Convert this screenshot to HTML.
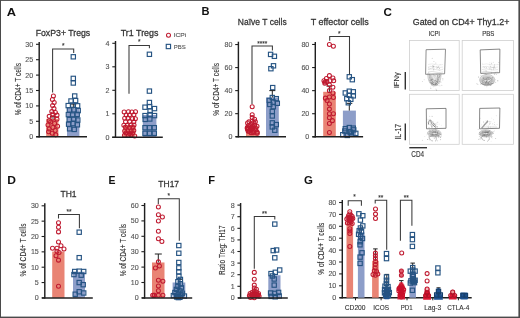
<!DOCTYPE html>
<html><head><meta charset="utf-8"><style>
html,body{margin:0;padding:0;background:#fff;}
body{width:520px;height:318px;overflow:hidden;position:relative;}
svg{position:absolute;left:0;top:0;filter:blur(0.35px);}
svg text{font-family:"Liberation Sans", sans-serif;}
</style></head><body>
<svg width="520" height="318" viewBox="0 0 520 318">
<rect x="0" y="0" width="520" height="318" fill="#fff"/>
<text x="6.65" y="15.6" font-size="11.4" font-weight="bold" fill="#111" stroke="#111" stroke-width="0" textLength="9.3" lengthAdjust="spacingAndGlyphs">A</text>
<text x="201.55" y="15.4" font-size="11.4" font-weight="bold" fill="#111" stroke="#111" stroke-width="0" textLength="8" lengthAdjust="spacingAndGlyphs">B</text>
<text x="383.45" y="15.6" font-size="11.4" font-weight="bold" fill="#111" stroke="#111" stroke-width="0" textLength="8.4" lengthAdjust="spacingAndGlyphs">C</text>
<text x="7.35" y="183.6" font-size="11.4" font-weight="bold" fill="#111" stroke="#111" stroke-width="0" textLength="8.7" lengthAdjust="spacingAndGlyphs">D</text>
<text x="108.45" y="183.8" font-size="11.4" font-weight="bold" fill="#111" stroke="#111" stroke-width="0" textLength="7" lengthAdjust="spacingAndGlyphs">E</text>
<text x="208.35" y="183.8" font-size="11.4" font-weight="bold" fill="#111" stroke="#111" stroke-width="0" textLength="6.8" lengthAdjust="spacingAndGlyphs">F</text>
<text x="303.95" y="183.8" font-size="11.4" font-weight="bold" fill="#111" stroke="#111" stroke-width="0" textLength="8.9" lengthAdjust="spacingAndGlyphs">G</text>
<text x="35.65" y="36.2" font-size="9.0" font-weight="normal" fill="#333333" stroke="#333333" stroke-width="0.26" textLength="54.6" lengthAdjust="spacingAndGlyphs">FoxP3+ Tregs</text>
<text x="20.6" y="115.35" font-size="8.6" fill="#333333" stroke="#333333" stroke-width="0.12" transform="rotate(-90 20.6 115.35)" textLength="52.4" lengthAdjust="spacingAndGlyphs">% of CD4+ T cells</text>
<rect x="14.4" y="66.2" width="5" height="3.7" fill="#b5b5b5" opacity="0.8"/>
<rect x="46.2" y="118.84" width="12.2" height="17.86" fill="#e98474"/>
<rect x="67" y="108.36" width="12.4" height="28.34" fill="#8d9ec9"/>
<line x1="53" y1="118.84" x2="53" y2="116.37" stroke="#202020" stroke-width="1.0"/>
<line x1="50" y1="116.37" x2="56" y2="116.37" stroke="#202020" stroke-width="1.0"/>
<line x1="73.3" y1="108.36" x2="73.3" y2="104.05" stroke="#202020" stroke-width="1.0"/>
<line x1="70.3" y1="104.05" x2="76.3" y2="104.05" stroke="#202020" stroke-width="1.0"/>
<circle cx="53.4" cy="96" r="2.0" stroke="#bf1a30" stroke-width="1.05" fill="none"/>
<circle cx="52.4" cy="99.4" r="2.0" stroke="#bf1a30" stroke-width="1.05" fill="none"/>
<circle cx="54.2" cy="102.4" r="2.0" stroke="#bf1a30" stroke-width="1.05" fill="none"/>
<circle cx="52.6" cy="105.6" r="2.0" stroke="#bf1a30" stroke-width="1.05" fill="none"/>
<circle cx="54" cy="108.6" r="2.0" stroke="#bf1a30" stroke-width="1.05" fill="none"/>
<circle cx="51.8" cy="111.6" r="2.0" stroke="#bf1a30" stroke-width="1.05" fill="none"/>
<circle cx="55.4" cy="112.4" r="2.0" stroke="#bf1a30" stroke-width="1.05" fill="none"/>
<circle cx="52.8" cy="113.91" r="2.0" stroke="#bf1a30" stroke-width="1.05" fill="none"/>
<circle cx="57" cy="115.14" r="2.0" stroke="#bf1a30" stroke-width="1.05" fill="none"/>
<circle cx="49.2" cy="116.37" r="2.0" stroke="#bf1a30" stroke-width="1.05" fill="none"/>
<circle cx="52.8" cy="118.22" r="2.0" stroke="#bf1a30" stroke-width="1.05" fill="none"/>
<circle cx="57" cy="119.14" r="2.0" stroke="#bf1a30" stroke-width="1.05" fill="none"/>
<circle cx="49.2" cy="120.68" r="2.0" stroke="#bf1a30" stroke-width="1.05" fill="none"/>
<circle cx="50.69" cy="121.92" r="2.0" stroke="#bf1a30" stroke-width="1.05" fill="none"/>
<circle cx="54.6" cy="123.46" r="2.0" stroke="#bf1a30" stroke-width="1.05" fill="none"/>
<circle cx="48" cy="125" r="2.0" stroke="#bf1a30" stroke-width="1.05" fill="none"/>
<circle cx="57.6" cy="126.23" r="2.0" stroke="#bf1a30" stroke-width="1.05" fill="none"/>
<circle cx="52.8" cy="127.46" r="2.0" stroke="#bf1a30" stroke-width="1.05" fill="none"/>
<circle cx="49.2" cy="129" r="2.0" stroke="#bf1a30" stroke-width="1.05" fill="none"/>
<circle cx="55.2" cy="130.54" r="2.0" stroke="#bf1a30" stroke-width="1.05" fill="none"/>
<circle cx="48.61" cy="131.77" r="2.0" stroke="#bf1a30" stroke-width="1.05" fill="none"/>
<circle cx="52.2" cy="133.31" r="2.0" stroke="#bf1a30" stroke-width="1.05" fill="none"/>
<circle cx="55.8" cy="134.85" r="2.0" stroke="#bf1a30" stroke-width="1.05" fill="none"/>
<rect x="72.55" y="93.85" width="4.3" height="4.3" stroke="#265483" stroke-width="1.15" fill="none"/>
<rect x="68.85" y="98.85" width="4.3" height="4.3" stroke="#265483" stroke-width="1.15" fill="none"/>
<rect x="73.45" y="98.45" width="4.3" height="4.3" stroke="#265483" stroke-width="1.15" fill="none"/>
<rect x="66.05" y="103.45" width="4.3" height="4.3" stroke="#265483" stroke-width="1.15" fill="none"/>
<rect x="70.65" y="103.05" width="4.3" height="4.3" stroke="#265483" stroke-width="1.15" fill="none"/>
<rect x="75.45" y="103.65" width="4.3" height="4.3" stroke="#265483" stroke-width="1.15" fill="none"/>
<rect x="67.25" y="107.85" width="4.3" height="4.3" stroke="#265483" stroke-width="1.15" fill="none"/>
<rect x="71.85" y="107.65" width="4.3" height="4.3" stroke="#265483" stroke-width="1.15" fill="none"/>
<rect x="76.05" y="108.45" width="4.3" height="4.3" stroke="#265483" stroke-width="1.15" fill="none"/>
<rect x="66.25" y="112.45" width="4.3" height="4.3" stroke="#265483" stroke-width="1.15" fill="none"/>
<rect x="70.45" y="112.85" width="4.3" height="4.3" stroke="#265483" stroke-width="1.15" fill="none"/>
<rect x="75.05" y="112.25" width="4.3" height="4.3" stroke="#265483" stroke-width="1.15" fill="none"/>
<rect x="67.05" y="117.45" width="4.3" height="4.3" stroke="#265483" stroke-width="1.15" fill="none"/>
<rect x="71.65" y="116.85" width="4.3" height="4.3" stroke="#265483" stroke-width="1.15" fill="none"/>
<rect x="75.65" y="117.85" width="4.3" height="4.3" stroke="#265483" stroke-width="1.15" fill="none"/>
<rect x="66.45" y="122.05" width="4.3" height="4.3" stroke="#265483" stroke-width="1.15" fill="none"/>
<rect x="70.85" y="121.45" width="4.3" height="4.3" stroke="#265483" stroke-width="1.15" fill="none"/>
<rect x="75.25" y="122.65" width="4.3" height="4.3" stroke="#265483" stroke-width="1.15" fill="none"/>
<rect x="67.45" y="126.65" width="4.3" height="4.3" stroke="#265483" stroke-width="1.15" fill="none"/>
<rect x="72.05" y="127.25" width="4.3" height="4.3" stroke="#265483" stroke-width="1.15" fill="none"/>
<rect x="71.15" y="76.25" width="4.3" height="4.3" stroke="#265483" stroke-width="1.15" fill="none"/>
<rect x="71.15" y="80.85" width="4.3" height="4.3" stroke="#265483" stroke-width="1.15" fill="none"/>
<rect x="71.15" y="54.65" width="4.3" height="4.3" stroke="#265483" stroke-width="1.15" fill="none"/>
<line x1="39.2" y1="42" x2="39.2" y2="137.4" stroke="#202020" stroke-width="1.45"/>
<line x1="36" y1="136.7" x2="39.2" y2="136.7" stroke="#202020" stroke-width="1.1"/>
<text x="33.2" y="139.26" font-size="7.1" text-anchor="end" font-weight="normal" fill="#555" stroke="#555" stroke-width="0.12">0</text>
<line x1="36" y1="121.3" x2="39.2" y2="121.3" stroke="#202020" stroke-width="1.1"/>
<text x="33.2" y="123.86" font-size="7.1" text-anchor="end" font-weight="normal" fill="#555" stroke="#555" stroke-width="0.12">5</text>
<line x1="36" y1="105.9" x2="39.2" y2="105.9" stroke="#202020" stroke-width="1.1"/>
<text x="33.2" y="108.46" font-size="7.1" text-anchor="end" font-weight="normal" fill="#555" stroke="#555" stroke-width="0.12">10</text>
<line x1="36" y1="90.5" x2="39.2" y2="90.5" stroke="#202020" stroke-width="1.1"/>
<text x="33.2" y="93.06" font-size="7.1" text-anchor="end" font-weight="normal" fill="#555" stroke="#555" stroke-width="0.12">15</text>
<line x1="36" y1="75.1" x2="39.2" y2="75.1" stroke="#202020" stroke-width="1.1"/>
<text x="33.2" y="77.66" font-size="7.1" text-anchor="end" font-weight="normal" fill="#555" stroke="#555" stroke-width="0.12">20</text>
<line x1="36" y1="59.7" x2="39.2" y2="59.7" stroke="#202020" stroke-width="1.1"/>
<text x="33.2" y="62.26" font-size="7.1" text-anchor="end" font-weight="normal" fill="#555" stroke="#555" stroke-width="0.12">25</text>
<line x1="36" y1="44.3" x2="39.2" y2="44.3" stroke="#202020" stroke-width="1.1"/>
<text x="33.2" y="46.86" font-size="7.1" text-anchor="end" font-weight="normal" fill="#555" stroke="#555" stroke-width="0.12">30</text>
<line x1="36.2" y1="136.7" x2="87" y2="136.7" stroke="#202020" stroke-width="1.5"/>
<path d="M52.6 92.5 L52.6 49 L73.7 49 L73.7 53" stroke="#3a3a3a" stroke-width="1.05" fill="none"/>
<text x="63.15" y="48.4" font-size="6.5" text-anchor="middle" font-weight="normal" fill="#333" stroke="#333" stroke-width="0.12">*</text>
<text x="120.75" y="35.7" font-size="9.0" font-weight="normal" fill="#333333" stroke="#333333" stroke-width="0.26" textLength="37.7" lengthAdjust="spacingAndGlyphs">Tr1 Tregs</text>
<rect x="123.2" y="125.08" width="12.2" height="12.22" fill="#e98474"/>
<rect x="142.8" y="114.98" width="13.6" height="22.32" fill="#8d9ec9"/>
<circle cx="124.16" cy="111.99" r="2.0" stroke="#bf1a30" stroke-width="1.05" fill="none"/>
<circle cx="128.43" cy="111.78" r="2.0" stroke="#bf1a30" stroke-width="1.05" fill="none"/>
<circle cx="131.82" cy="112.09" r="2.0" stroke="#bf1a30" stroke-width="1.05" fill="none"/>
<circle cx="135.51" cy="111.81" r="2.0" stroke="#bf1a30" stroke-width="1.05" fill="none"/>
<circle cx="126.21" cy="114.94" r="2.0" stroke="#bf1a30" stroke-width="1.05" fill="none"/>
<circle cx="129.5" cy="115.07" r="2.0" stroke="#bf1a30" stroke-width="1.05" fill="none"/>
<circle cx="133.89" cy="114.77" r="2.0" stroke="#bf1a30" stroke-width="1.05" fill="none"/>
<circle cx="124.69" cy="118.33" r="2.0" stroke="#bf1a30" stroke-width="1.05" fill="none"/>
<circle cx="127.93" cy="118.14" r="2.0" stroke="#bf1a30" stroke-width="1.05" fill="none"/>
<circle cx="132.5" cy="118.84" r="2.0" stroke="#bf1a30" stroke-width="1.05" fill="none"/>
<circle cx="135.38" cy="118.72" r="2.0" stroke="#bf1a30" stroke-width="1.05" fill="none"/>
<circle cx="125.53" cy="121.83" r="2.0" stroke="#bf1a30" stroke-width="1.05" fill="none"/>
<circle cx="129.8" cy="121.62" r="2.0" stroke="#bf1a30" stroke-width="1.05" fill="none"/>
<circle cx="133.85" cy="121.87" r="2.0" stroke="#bf1a30" stroke-width="1.05" fill="none"/>
<circle cx="123.85" cy="125.32" r="2.0" stroke="#bf1a30" stroke-width="1.05" fill="none"/>
<circle cx="127.22" cy="125.43" r="2.0" stroke="#bf1a30" stroke-width="1.05" fill="none"/>
<circle cx="130.95" cy="125.05" r="2.0" stroke="#bf1a30" stroke-width="1.05" fill="none"/>
<circle cx="134.04" cy="124.98" r="2.0" stroke="#bf1a30" stroke-width="1.05" fill="none"/>
<circle cx="125.49" cy="127.34" r="2.0" stroke="#bf1a30" stroke-width="1.05" fill="none"/>
<circle cx="129.57" cy="127.53" r="2.0" stroke="#bf1a30" stroke-width="1.05" fill="none"/>
<circle cx="132.88" cy="127.51" r="2.0" stroke="#bf1a30" stroke-width="1.05" fill="none"/>
<circle cx="124.67" cy="130.99" r="2.0" stroke="#bf1a30" stroke-width="1.05" fill="none"/>
<circle cx="127.85" cy="130.86" r="2.0" stroke="#bf1a30" stroke-width="1.05" fill="none"/>
<circle cx="131.08" cy="130.83" r="2.0" stroke="#bf1a30" stroke-width="1.05" fill="none"/>
<circle cx="133.82" cy="130.58" r="2.0" stroke="#bf1a30" stroke-width="1.05" fill="none"/>
<circle cx="126.13" cy="132.9" r="2.0" stroke="#bf1a30" stroke-width="1.05" fill="none"/>
<circle cx="129.62" cy="133.59" r="2.0" stroke="#bf1a30" stroke-width="1.05" fill="none"/>
<circle cx="132.51" cy="133.07" r="2.0" stroke="#bf1a30" stroke-width="1.05" fill="none"/>
<circle cx="124.45" cy="135.39" r="2.0" stroke="#bf1a30" stroke-width="1.05" fill="none"/>
<circle cx="128.49" cy="135.39" r="2.0" stroke="#bf1a30" stroke-width="1.05" fill="none"/>
<circle cx="131.03" cy="135.09" r="2.0" stroke="#bf1a30" stroke-width="1.05" fill="none"/>
<circle cx="134.72" cy="135.99" r="2.0" stroke="#bf1a30" stroke-width="1.05" fill="none"/>
<rect x="147.25" y="52.15" width="4.3" height="4.3" stroke="#265483" stroke-width="1.15" fill="none"/>
<rect x="147.25" y="88.95" width="4.3" height="4.3" stroke="#265483" stroke-width="1.15" fill="none"/>
<rect x="147.25" y="100.35" width="4.3" height="4.3" stroke="#265483" stroke-width="1.15" fill="none"/>
<rect x="142.85" y="105.05" width="4.3" height="4.3" stroke="#265483" stroke-width="1.15" fill="none"/>
<rect x="147.45" y="104.45" width="4.3" height="4.3" stroke="#265483" stroke-width="1.15" fill="none"/>
<rect x="152.35" y="106.45" width="4.3" height="4.3" stroke="#265483" stroke-width="1.15" fill="none"/>
<rect x="147.95" y="108.85" width="4.3" height="4.3" stroke="#265483" stroke-width="1.15" fill="none"/>
<rect x="142.85" y="113.45" width="4.3" height="4.3" stroke="#265483" stroke-width="1.15" fill="none"/>
<rect x="147.95" y="112.45" width="4.3" height="4.3" stroke="#265483" stroke-width="1.15" fill="none"/>
<rect x="152.35" y="113.45" width="4.3" height="4.3" stroke="#265483" stroke-width="1.15" fill="none"/>
<rect x="143.05" y="117.25" width="4.3" height="4.3" stroke="#265483" stroke-width="1.15" fill="none"/>
<rect x="147.65" y="116.85" width="4.3" height="4.3" stroke="#265483" stroke-width="1.15" fill="none"/>
<rect x="142.85" y="125.55" width="4.3" height="4.3" stroke="#265483" stroke-width="1.15" fill="none"/>
<rect x="147.45" y="125.55" width="4.3" height="4.3" stroke="#265483" stroke-width="1.15" fill="none"/>
<rect x="152.15" y="125.55" width="4.3" height="4.3" stroke="#265483" stroke-width="1.15" fill="none"/>
<rect x="142.85" y="131.15" width="4.3" height="4.3" stroke="#265483" stroke-width="1.15" fill="none"/>
<rect x="147.45" y="131.15" width="4.3" height="4.3" stroke="#265483" stroke-width="1.15" fill="none"/>
<rect x="152.15" y="131.15" width="4.3" height="4.3" stroke="#265483" stroke-width="1.15" fill="none"/>
<line x1="115.5" y1="41" x2="115.5" y2="138" stroke="#202020" stroke-width="1.45"/>
<line x1="112.3" y1="137.3" x2="115.5" y2="137.3" stroke="#202020" stroke-width="1.1"/>
<text x="109.5" y="139.86" font-size="7.1" text-anchor="end" font-weight="normal" fill="#555" stroke="#555" stroke-width="0.12">0</text>
<line x1="112.3" y1="113.8" x2="115.5" y2="113.8" stroke="#202020" stroke-width="1.1"/>
<text x="109.5" y="116.36" font-size="7.1" text-anchor="end" font-weight="normal" fill="#555" stroke="#555" stroke-width="0.12">1</text>
<line x1="112.3" y1="90.3" x2="115.5" y2="90.3" stroke="#202020" stroke-width="1.1"/>
<text x="109.5" y="92.86" font-size="7.1" text-anchor="end" font-weight="normal" fill="#555" stroke="#555" stroke-width="0.12">2</text>
<line x1="112.3" y1="66.8" x2="115.5" y2="66.8" stroke="#202020" stroke-width="1.1"/>
<text x="109.5" y="69.36" font-size="7.1" text-anchor="end" font-weight="normal" fill="#555" stroke="#555" stroke-width="0.12">3</text>
<line x1="112.3" y1="43.3" x2="115.5" y2="43.3" stroke="#202020" stroke-width="1.1"/>
<text x="109.5" y="45.86" font-size="7.1" text-anchor="end" font-weight="normal" fill="#555" stroke="#555" stroke-width="0.12">4</text>
<line x1="112.2" y1="137.3" x2="162.8" y2="137.3" stroke="#202020" stroke-width="1.5"/>
<path d="M129 93.8 L129 45.5 L149.4 45.5 L149.4 48.3" stroke="#3a3a3a" stroke-width="1.05" fill="none"/>
<text x="139.2" y="44" font-size="6.5" text-anchor="middle" font-weight="normal" fill="#333" stroke="#333" stroke-width="0.12">*</text>
<circle cx="168.5" cy="35.2" r="2.0" stroke="#bf1a30" stroke-width="1.05" fill="none"/>
<text x="173.65" y="37.4" font-size="6.2" font-weight="normal" fill="#555" stroke="#555" stroke-width="0.12" textLength="12.7" lengthAdjust="spacingAndGlyphs">ICPi</text>
<rect x="166.25" y="44.35" width="4.3" height="4.3" stroke="#265483" stroke-width="1.15" fill="none"/>
<text x="173.65" y="48.6" font-size="6.2" font-weight="normal" fill="#555" stroke="#555" stroke-width="0.12" textLength="12" lengthAdjust="spacingAndGlyphs">PBS</text>
<text x="237.85" y="25.2" font-size="9.0" font-weight="normal" fill="#333333" stroke="#333333" stroke-width="0.26" textLength="48.8" lengthAdjust="spacingAndGlyphs">Naïve T cells</text>
<text x="219.3" y="115.65" font-size="8.6" fill="#333333" stroke="#333333" stroke-width="0.12" transform="rotate(-90 219.3 115.65)" textLength="52.7" lengthAdjust="spacingAndGlyphs">% of CD4+ T cells</text>
<rect x="213.1" y="66.1" width="4.4" height="3.8" fill="#b5b5b5" opacity="0.8"/>
<rect x="246" y="125.76" width="12.4" height="10.94" fill="#e98474"/>
<rect x="266" y="97.53" width="12.8" height="39.17" fill="#8d9ec9"/>
<rect x="268.45" y="52.25" width="4.3" height="4.3" stroke="#265483" stroke-width="1.15" fill="none"/>
<rect x="272.25" y="54.15" width="4.3" height="4.3" stroke="#265483" stroke-width="1.15" fill="none"/>
<rect x="271.35" y="63.65" width="4.3" height="4.3" stroke="#265483" stroke-width="1.15" fill="none"/>
<rect x="268.75" y="66.55" width="4.3" height="4.3" stroke="#265483" stroke-width="1.15" fill="none"/>
<rect x="270.55" y="85.45" width="4.3" height="4.3" stroke="#265483" stroke-width="1.15" fill="none"/>
<circle cx="252.2" cy="106.75" r="2.0" stroke="#bf1a30" stroke-width="1.05" fill="none"/>
<circle cx="252.2" cy="114.81" r="2.0" stroke="#bf1a30" stroke-width="1.05" fill="none"/>
<circle cx="252.2" cy="117.58" r="2.0" stroke="#bf1a30" stroke-width="1.05" fill="none"/>
<circle cx="254.6" cy="119.19" r="2.0" stroke="#bf1a30" stroke-width="1.05" fill="none"/>
<circle cx="252.2" cy="121.19" r="2.0" stroke="#bf1a30" stroke-width="1.05" fill="none"/>
<circle cx="255.4" cy="121.69" r="2.0" stroke="#bf1a30" stroke-width="1.05" fill="none"/>
<circle cx="249" cy="121.87" r="2.0" stroke="#bf1a30" stroke-width="1.05" fill="none"/>
<circle cx="253.83" cy="122.46" r="2.0" stroke="#bf1a30" stroke-width="1.05" fill="none"/>
<circle cx="247.58" cy="123" r="2.0" stroke="#bf1a30" stroke-width="1.05" fill="none"/>
<circle cx="251.4" cy="123.79" r="2.0" stroke="#bf1a30" stroke-width="1.05" fill="none"/>
<circle cx="254.6" cy="125.04" r="2.0" stroke="#bf1a30" stroke-width="1.05" fill="none"/>
<circle cx="249" cy="125.22" r="2.0" stroke="#bf1a30" stroke-width="1.05" fill="none"/>
<circle cx="257" cy="126.24" r="2.0" stroke="#bf1a30" stroke-width="1.05" fill="none"/>
<circle cx="252.2" cy="126.49" r="2.0" stroke="#bf1a30" stroke-width="1.05" fill="none"/>
<circle cx="252.59" cy="126.5" r="2.0" stroke="#bf1a30" stroke-width="1.05" fill="none"/>
<circle cx="247.4" cy="127.27" r="2.0" stroke="#bf1a30" stroke-width="1.05" fill="none"/>
<circle cx="250.75" cy="127.83" r="2.0" stroke="#bf1a30" stroke-width="1.05" fill="none"/>
<circle cx="247.43" cy="128.09" r="2.0" stroke="#bf1a30" stroke-width="1.05" fill="none"/>
<circle cx="252.28" cy="128.12" r="2.0" stroke="#bf1a30" stroke-width="1.05" fill="none"/>
<circle cx="247.2" cy="128.2" r="2.0" stroke="#bf1a30" stroke-width="1.05" fill="none"/>
<circle cx="255.4" cy="128.37" r="2.0" stroke="#bf1a30" stroke-width="1.05" fill="none"/>
<circle cx="251.48" cy="128.86" r="2.0" stroke="#bf1a30" stroke-width="1.05" fill="none"/>
<circle cx="247.55" cy="129.03" r="2.0" stroke="#bf1a30" stroke-width="1.05" fill="none"/>
<circle cx="247.78" cy="129.4" r="2.0" stroke="#bf1a30" stroke-width="1.05" fill="none"/>
<circle cx="251.38" cy="129.45" r="2.0" stroke="#bf1a30" stroke-width="1.05" fill="none"/>
<circle cx="255.73" cy="130.26" r="2.0" stroke="#bf1a30" stroke-width="1.05" fill="none"/>
<circle cx="248.14" cy="131.15" r="2.0" stroke="#bf1a30" stroke-width="1.05" fill="none"/>
<circle cx="249.21" cy="131.33" r="2.0" stroke="#bf1a30" stroke-width="1.05" fill="none"/>
<circle cx="253.58" cy="131.35" r="2.0" stroke="#bf1a30" stroke-width="1.05" fill="none"/>
<circle cx="257.04" cy="132.03" r="2.0" stroke="#bf1a30" stroke-width="1.05" fill="none"/>
<circle cx="253.03" cy="132.72" r="2.0" stroke="#bf1a30" stroke-width="1.05" fill="none"/>
<circle cx="251.08" cy="132.73" r="2.0" stroke="#bf1a30" stroke-width="1.05" fill="none"/>
<circle cx="257.34" cy="133.14" r="2.0" stroke="#bf1a30" stroke-width="1.05" fill="none"/>
<line x1="272.3" y1="97.53" x2="272.3" y2="90.62" stroke="#202020" stroke-width="1.0"/>
<line x1="269.3" y1="90.62" x2="275.3" y2="90.62" stroke="#202020" stroke-width="1.0"/>
<rect x="270.15" y="95.38" width="4.3" height="4.3" stroke="#265483" stroke-width="1.15" fill="none"/>
<rect x="274.15" y="96.53" width="4.3" height="4.3" stroke="#265483" stroke-width="1.15" fill="none"/>
<rect x="267.15" y="98.26" width="4.3" height="4.3" stroke="#265483" stroke-width="1.15" fill="none"/>
<rect x="271.15" y="99.99" width="4.3" height="4.3" stroke="#265483" stroke-width="1.15" fill="none"/>
<rect x="275.15" y="101.14" width="4.3" height="4.3" stroke="#265483" stroke-width="1.15" fill="none"/>
<rect x="267.65" y="102.29" width="4.3" height="4.3" stroke="#265483" stroke-width="1.15" fill="none"/>
<rect x="271.15" y="104.6" width="4.3" height="4.3" stroke="#265483" stroke-width="1.15" fill="none"/>
<rect x="270.15" y="109.21" width="4.3" height="4.3" stroke="#265483" stroke-width="1.15" fill="none"/>
<rect x="270.15" y="113.81" width="4.3" height="4.3" stroke="#265483" stroke-width="1.15" fill="none"/>
<rect x="270.15" y="120.73" width="4.3" height="4.3" stroke="#265483" stroke-width="1.15" fill="none"/>
<rect x="274.15" y="122.45" width="4.3" height="4.3" stroke="#265483" stroke-width="1.15" fill="none"/>
<rect x="270.15" y="124.76" width="4.3" height="4.3" stroke="#265483" stroke-width="1.15" fill="none"/>
<rect x="272.65" y="128.1" width="4.3" height="4.3" stroke="#265483" stroke-width="1.15" fill="none"/>
<line x1="238.4" y1="41.7" x2="238.4" y2="137.4" stroke="#202020" stroke-width="1.45"/>
<line x1="235.2" y1="136.7" x2="238.4" y2="136.7" stroke="#202020" stroke-width="1.1"/>
<text x="232.4" y="139.26" font-size="7.1" text-anchor="end" font-weight="normal" fill="#555" stroke="#555" stroke-width="0.12">0</text>
<line x1="235.2" y1="113.66" x2="238.4" y2="113.66" stroke="#202020" stroke-width="1.1"/>
<text x="232.4" y="116.22" font-size="7.1" text-anchor="end" font-weight="normal" fill="#555" stroke="#555" stroke-width="0.12">20</text>
<line x1="235.2" y1="90.62" x2="238.4" y2="90.62" stroke="#202020" stroke-width="1.1"/>
<text x="232.4" y="93.18" font-size="7.1" text-anchor="end" font-weight="normal" fill="#555" stroke="#555" stroke-width="0.12">40</text>
<line x1="235.2" y1="67.58" x2="238.4" y2="67.58" stroke="#202020" stroke-width="1.1"/>
<text x="232.4" y="70.14" font-size="7.1" text-anchor="end" font-weight="normal" fill="#555" stroke="#555" stroke-width="0.12">60</text>
<line x1="235.2" y1="44.54" x2="238.4" y2="44.54" stroke="#202020" stroke-width="1.1"/>
<text x="232.4" y="47.1" font-size="7.1" text-anchor="end" font-weight="normal" fill="#555" stroke="#555" stroke-width="0.12">80</text>
<line x1="235.7" y1="136.7" x2="286" y2="136.7" stroke="#202020" stroke-width="1.5"/>
<path d="M252 104 L252 46 L272.4 46 L272.4 50.6" stroke="#3a3a3a" stroke-width="1.05" fill="none"/>
<text x="262.3" y="46.3" font-size="6.5" text-anchor="middle" font-weight="normal" fill="#333" stroke="#333" stroke-width="0.12">****</text>
<text x="310.65" y="25.3" font-size="9.0" font-weight="normal" fill="#333333" stroke="#333333" stroke-width="0.26" textLength="58" lengthAdjust="spacingAndGlyphs">T effector cells</text>
<rect x="323.2" y="91.79" width="12.6" height="45.01" fill="#e98474"/>
<rect x="342.9" y="110.6" width="13" height="26.2" fill="#8d9ec9"/>
<line x1="329.4" y1="91.79" x2="329.4" y2="86.02" stroke="#202020" stroke-width="1.0"/>
<line x1="326.4" y1="86.02" x2="332.4" y2="86.02" stroke="#202020" stroke-width="1.0"/>
<circle cx="329.4" cy="44.48" r="2.0" stroke="#bf1a30" stroke-width="1.05" fill="none"/>
<circle cx="333.4" cy="46.21" r="2.0" stroke="#bf1a30" stroke-width="1.05" fill="none"/>
<circle cx="329.4" cy="75.64" r="2.0" stroke="#bf1a30" stroke-width="1.05" fill="none"/>
<circle cx="332.9" cy="77.95" r="2.0" stroke="#bf1a30" stroke-width="1.05" fill="none"/>
<circle cx="326.4" cy="78.52" r="2.0" stroke="#bf1a30" stroke-width="1.05" fill="none"/>
<circle cx="329.9" cy="80.83" r="2.0" stroke="#bf1a30" stroke-width="1.05" fill="none"/>
<circle cx="323.96" cy="80.83" r="2.0" stroke="#bf1a30" stroke-width="1.05" fill="none"/>
<circle cx="333.7" cy="80.83" r="2.0" stroke="#bf1a30" stroke-width="1.05" fill="none"/>
<circle cx="326.88" cy="81.41" r="2.0" stroke="#bf1a30" stroke-width="1.05" fill="none"/>
<circle cx="325.13" cy="81.99" r="2.0" stroke="#bf1a30" stroke-width="1.05" fill="none"/>
<circle cx="324.81" cy="83.14" r="2.0" stroke="#bf1a30" stroke-width="1.05" fill="none"/>
<circle cx="329.4" cy="84.87" r="2.0" stroke="#bf1a30" stroke-width="1.05" fill="none"/>
<circle cx="332.9" cy="87.18" r="2.0" stroke="#bf1a30" stroke-width="1.05" fill="none"/>
<circle cx="329.4" cy="90.64" r="2.0" stroke="#bf1a30" stroke-width="1.05" fill="none"/>
<circle cx="332.9" cy="92.95" r="2.0" stroke="#bf1a30" stroke-width="1.05" fill="none"/>
<circle cx="329.4" cy="96.99" r="2.0" stroke="#bf1a30" stroke-width="1.05" fill="none"/>
<circle cx="333.4" cy="97.56" r="2.0" stroke="#bf1a30" stroke-width="1.05" fill="none"/>
<circle cx="325.4" cy="98.14" r="2.0" stroke="#bf1a30" stroke-width="1.05" fill="none"/>
<circle cx="327.1" cy="100.45" r="2.0" stroke="#bf1a30" stroke-width="1.05" fill="none"/>
<circle cx="329.4" cy="103.91" r="2.0" stroke="#bf1a30" stroke-width="1.05" fill="none"/>
<circle cx="329.4" cy="109.1" r="2.0" stroke="#bf1a30" stroke-width="1.05" fill="none"/>
<circle cx="329.4" cy="113.72" r="2.0" stroke="#bf1a30" stroke-width="1.05" fill="none"/>
<circle cx="333.4" cy="113.72" r="2.0" stroke="#bf1a30" stroke-width="1.05" fill="none"/>
<circle cx="329.4" cy="117.76" r="2.0" stroke="#bf1a30" stroke-width="1.05" fill="none"/>
<circle cx="332.4" cy="120.64" r="2.0" stroke="#bf1a30" stroke-width="1.05" fill="none"/>
<circle cx="329.4" cy="123.53" r="2.0" stroke="#bf1a30" stroke-width="1.05" fill="none"/>
<circle cx="329.4" cy="132.53" r="2.0" stroke="#bf1a30" stroke-width="1.05" fill="none"/>
<line x1="349.3" y1="110.6" x2="349.3" y2="103.33" stroke="#202020" stroke-width="1.0"/>
<line x1="346.3" y1="103.33" x2="352.3" y2="103.33" stroke="#202020" stroke-width="1.0"/>
<rect x="347.15" y="74.64" width="4.3" height="4.3" stroke="#265483" stroke-width="1.15" fill="none"/>
<rect x="350.15" y="77.53" width="4.3" height="4.3" stroke="#265483" stroke-width="1.15" fill="none"/>
<rect x="347.15" y="89.07" width="4.3" height="4.3" stroke="#265483" stroke-width="1.15" fill="none"/>
<rect x="351.15" y="89.64" width="4.3" height="4.3" stroke="#265483" stroke-width="1.15" fill="none"/>
<rect x="343.15" y="90.8" width="4.3" height="4.3" stroke="#265483" stroke-width="1.15" fill="none"/>
<rect x="347.15" y="93.11" width="4.3" height="4.3" stroke="#265483" stroke-width="1.15" fill="none"/>
<rect x="351.15" y="93.68" width="4.3" height="4.3" stroke="#265483" stroke-width="1.15" fill="none"/>
<rect x="344.65" y="96.57" width="4.3" height="4.3" stroke="#265483" stroke-width="1.15" fill="none"/>
<rect x="348.65" y="97.15" width="4.3" height="4.3" stroke="#265483" stroke-width="1.15" fill="none"/>
<rect x="346.15" y="100.61" width="4.3" height="4.3" stroke="#265483" stroke-width="1.15" fill="none"/>
<rect x="347.15" y="125.42" width="4.3" height="4.3" stroke="#265483" stroke-width="1.15" fill="none"/>
<rect x="351.15" y="126" width="4.3" height="4.3" stroke="#265483" stroke-width="1.15" fill="none"/>
<rect x="343.15" y="126.57" width="4.3" height="4.3" stroke="#265483" stroke-width="1.15" fill="none"/>
<rect x="351.58" y="127.73" width="4.3" height="4.3" stroke="#265483" stroke-width="1.15" fill="none"/>
<rect x="342.68" y="128.88" width="4.3" height="4.3" stroke="#265483" stroke-width="1.15" fill="none"/>
<rect x="347.15" y="129.46" width="4.3" height="4.3" stroke="#265483" stroke-width="1.15" fill="none"/>
<rect x="348.29" y="130.03" width="4.3" height="4.3" stroke="#265483" stroke-width="1.15" fill="none"/>
<rect x="353.65" y="131.19" width="4.3" height="4.3" stroke="#265483" stroke-width="1.15" fill="none"/>
<rect x="349.09" y="131.77" width="4.3" height="4.3" stroke="#265483" stroke-width="1.15" fill="none"/>
<rect x="340.65" y="132.57" width="4.3" height="4.3" stroke="#265483" stroke-width="1.15" fill="none"/>
<rect x="345.15" y="133.27" width="4.3" height="4.3" stroke="#265483" stroke-width="1.15" fill="none"/>
<line x1="315.3" y1="42" x2="315.3" y2="137.5" stroke="#202020" stroke-width="1.45"/>
<line x1="312.1" y1="136.8" x2="315.3" y2="136.8" stroke="#202020" stroke-width="1.1"/>
<text x="309.3" y="139.36" font-size="7.1" text-anchor="end" font-weight="normal" fill="#555" stroke="#555" stroke-width="0.12">0</text>
<line x1="312.1" y1="113.72" x2="315.3" y2="113.72" stroke="#202020" stroke-width="1.1"/>
<text x="309.3" y="116.28" font-size="7.1" text-anchor="end" font-weight="normal" fill="#555" stroke="#555" stroke-width="0.12">20</text>
<line x1="312.1" y1="90.64" x2="315.3" y2="90.64" stroke="#202020" stroke-width="1.1"/>
<text x="309.3" y="93.2" font-size="7.1" text-anchor="end" font-weight="normal" fill="#555" stroke="#555" stroke-width="0.12">40</text>
<line x1="312.1" y1="67.56" x2="315.3" y2="67.56" stroke="#202020" stroke-width="1.1"/>
<text x="309.3" y="70.12" font-size="7.1" text-anchor="end" font-weight="normal" fill="#555" stroke="#555" stroke-width="0.12">60</text>
<line x1="312.1" y1="44.48" x2="315.3" y2="44.48" stroke="#202020" stroke-width="1.1"/>
<text x="309.3" y="47.04" font-size="7.1" text-anchor="end" font-weight="normal" fill="#555" stroke="#555" stroke-width="0.12">80</text>
<line x1="312.5" y1="136.8" x2="363.1" y2="136.8" stroke="#202020" stroke-width="1.5"/>
<path d="M329.7 40.8 L329.7 36.4 L349.5 36.4 L349.5 74.5" stroke="#3a3a3a" stroke-width="1.05" fill="none"/>
<text x="339.3" y="36.4" font-size="6.5" text-anchor="middle" font-weight="normal" fill="#333" stroke="#333" stroke-width="0.12">*</text>
<text x="412.75" y="25.1" font-size="9.0" font-weight="normal" fill="#333333" stroke="#333333" stroke-width="0.26" textLength="96.6" lengthAdjust="spacingAndGlyphs">Gated on CD4+ Thy1.2+</text>
<text x="428.65" y="35.7" font-size="6.6" font-weight="normal" fill="#333333" stroke="#333333" stroke-width="0.12" textLength="11.3" lengthAdjust="spacingAndGlyphs">ICPi</text>
<text x="482.15" y="35.8" font-size="6.6" font-weight="normal" fill="#333333" stroke="#333333" stroke-width="0.12" textLength="12.2" lengthAdjust="spacingAndGlyphs">PBS</text>
<rect x="409.5" y="40.5" width="49.7" height="50" fill="none" stroke="#cfcfcf" stroke-width="0.8"/>
<rect x="462.2" y="40.5" width="51.3" height="50" fill="none" stroke="#cfcfcf" stroke-width="0.8"/>
<rect x="409.5" y="94.3" width="49.7" height="50" fill="none" stroke="#cfcfcf" stroke-width="0.8"/>
<rect x="462.2" y="94.3" width="51.3" height="50" fill="none" stroke="#cfcfcf" stroke-width="0.8"/>
<defs><radialGradient id="gb" cx="50%" cy="50%" r="50%"><stop offset="0" stop-color="#9a9a9a"/><stop offset="0.6" stop-color="#c4c4c4"/><stop offset="1" stop-color="#ececec" stop-opacity="0"/></radialGradient></defs>
<path d="M428 64.5 Q432.5 63.3 435.5 64.5 T443 64.5" stroke="#8a8a8a" stroke-width="0.6" fill="none" opacity="0.25"/>
<path d="M428 67.0 Q432.5 65.8 435.5 67.0 T443 67.0" stroke="#8a8a8a" stroke-width="0.6" fill="none" opacity="0.3"/>
<path d="M428 69.5 Q432.5 68.3 435.5 69.5 T443 69.5" stroke="#8a8a8a" stroke-width="0.6" fill="none" opacity="0.35"/>
<path d="M428 72.0 Q432.5 70.8 435.5 72.0 T443 72.0" stroke="#8a8a8a" stroke-width="0.6" fill="none" opacity="0.4"/>
<path d="M482 64.5 Q487.0 63.3 490.0 64.5 T498 64.5" stroke="#8a8a8a" stroke-width="0.6" fill="none" opacity="0.25"/>
<path d="M482 67.0 Q487.0 65.8 490.0 67.0 T498 67.0" stroke="#8a8a8a" stroke-width="0.6" fill="none" opacity="0.3"/>
<path d="M482 69.5 Q487.0 68.3 490.0 69.5 T498 69.5" stroke="#8a8a8a" stroke-width="0.6" fill="none" opacity="0.35"/>
<path d="M482 72.0 Q487.0 70.8 490.0 72.0 T498 72.0" stroke="#8a8a8a" stroke-width="0.6" fill="none" opacity="0.4"/>
<path d="M427.8 73.5 C427.5 90, 441.5 90, 441 73.5" stroke="#b0b0b0" stroke-width="0.7" fill="#e8e8e8" opacity="0.9"/>
<path d="M429.3 74 C429.2 87.5, 439.6 87.5, 439.4 74" stroke="#a0a0a0" stroke-width="0.7" fill="none" opacity="1.0"/>
<path d="M430.8 75 C430.8 85.5, 438 85.5, 437.9 75" stroke="#959595" stroke-width="0.7" fill="none" opacity="1.0"/>
<path d="M432.4 77.5 C432.4 82.5, 436.3 82.5, 436.2 77.5" stroke="#aaa" stroke-width="0.6" fill="none" opacity="1.0"/>
<path d="M430.2 81.8 Q434.3 87.8 438.4 81.8" stroke="#707070" stroke-width="1.0" fill="none" opacity="0.7"/>
<circle cx="439.91" cy="85.72" r="0.54" fill="#555" opacity="0.24"/><circle cx="429.91" cy="80.61" r="0.51" fill="#555" opacity="0.43"/><circle cx="435.34" cy="80.98" r="0.56" fill="#555" opacity="0.3"/><circle cx="434.52" cy="80.27" r="0.46" fill="#555" opacity="0.4"/><circle cx="435.85" cy="89.1" r="0.58" fill="#555" opacity="0.16"/><circle cx="439.68" cy="81.22" r="0.58" fill="#555" opacity="0.28"/><circle cx="435.42" cy="84.19" r="0.36" fill="#555" opacity="0.23"/><circle cx="429.95" cy="82.1" r="0.41" fill="#555" opacity="0.23"/><circle cx="435.41" cy="84.42" r="0.42" fill="#555" opacity="0.16"/><circle cx="437.3" cy="76.59" r="0.51" fill="#555" opacity="0.22"/><circle cx="442.82" cy="80.17" r="0.38" fill="#555" opacity="0.27"/><circle cx="433.32" cy="74.92" r="0.58" fill="#555" opacity="0.3"/><circle cx="437.52" cy="75.8" r="0.43" fill="#555" opacity="0.36"/><circle cx="440.51" cy="75.81" r="0.48" fill="#555" opacity="0.36"/><circle cx="437.56" cy="81.08" r="0.55" fill="#555" opacity="0.3"/><circle cx="436.96" cy="84.52" r="0.53" fill="#555" opacity="0.39"/><circle cx="431.31" cy="83.24" r="0.48" fill="#555" opacity="0.42"/><circle cx="430.34" cy="80.03" r="0.47" fill="#555" opacity="0.16"/><circle cx="440.81" cy="82.01" r="0.6" fill="#555" opacity="0.36"/><circle cx="432.49" cy="81.86" r="0.48" fill="#555" opacity="0.49"/><circle cx="435.17" cy="76.05" r="0.57" fill="#555" opacity="0.23"/><circle cx="424.17" cy="79.73" r="0.49" fill="#555" opacity="0.31"/><circle cx="433.86" cy="85" r="0.59" fill="#555" opacity="0.15"/><circle cx="439.71" cy="76.62" r="0.55" fill="#555" opacity="0.33"/><circle cx="430.4" cy="79.07" r="0.36" fill="#555" opacity="0.45"/><circle cx="431.96" cy="79.48" r="0.48" fill="#555" opacity="0.32"/><circle cx="432.09" cy="83.1" r="0.48" fill="#555" opacity="0.37"/><circle cx="430.96" cy="77.91" r="0.36" fill="#555" opacity="0.23"/><circle cx="436.96" cy="84.78" r="0.57" fill="#555" opacity="0.43"/><circle cx="436.76" cy="74.16" r="0.41" fill="#555" opacity="0.44"/><circle cx="433.69" cy="79.17" r="0.35" fill="#555" opacity="0.16"/><circle cx="434.61" cy="77.77" r="0.38" fill="#555" opacity="0.37"/><circle cx="433.61" cy="81.63" r="0.39" fill="#555" opacity="0.33"/><circle cx="436.15" cy="83" r="0.53" fill="#555" opacity="0.31"/><circle cx="432.42" cy="84.17" r="0.36" fill="#555" opacity="0.29"/><circle cx="432.12" cy="81.61" r="0.38" fill="#555" opacity="0.46"/><circle cx="431.63" cy="80.34" r="0.5" fill="#555" opacity="0.44"/><circle cx="435.29" cy="80.59" r="0.39" fill="#555" opacity="0.4"/><circle cx="438.01" cy="85.25" r="0.52" fill="#555" opacity="0.34"/><circle cx="436.6" cy="90.14" r="0.55" fill="#555" opacity="0.33"/><circle cx="435.52" cy="85.63" r="0.45" fill="#555" opacity="0.35"/><circle cx="431.93" cy="85.08" r="0.36" fill="#555" opacity="0.25"/><circle cx="442.9" cy="79.03" r="0.43" fill="#555" opacity="0.45"/><circle cx="430.82" cy="88.42" r="0.54" fill="#555" opacity="0.3"/><circle cx="434.49" cy="80.97" r="0.57" fill="#555" opacity="0.16"/><circle cx="432.17" cy="79.56" r="0.57" fill="#555" opacity="0.49"/><circle cx="433.07" cy="76.38" r="0.44" fill="#555" opacity="0.27"/><circle cx="436.23" cy="85.68" r="0.46" fill="#555" opacity="0.22"/><circle cx="439.43" cy="83.75" r="0.42" fill="#555" opacity="0.32"/><circle cx="430.62" cy="86.99" r="0.57" fill="#555" opacity="0.16"/><circle cx="435.64" cy="83.56" r="0.6" fill="#555" opacity="0.42"/><circle cx="432.96" cy="82.61" r="0.52" fill="#555" opacity="0.44"/><circle cx="438.01" cy="79.13" r="0.57" fill="#555" opacity="0.39"/><circle cx="422.34" cy="81.52" r="0.41" fill="#555" opacity="0.4"/><circle cx="436.71" cy="81.61" r="0.58" fill="#555" opacity="0.22"/><circle cx="434.83" cy="75.63" r="0.56" fill="#555" opacity="0.28"/><circle cx="432.63" cy="83.02" r="0.57" fill="#555" opacity="0.36"/><circle cx="442.92" cy="78.37" r="0.38" fill="#555" opacity="0.34"/><circle cx="435.44" cy="81.12" r="0.37" fill="#555" opacity="0.45"/><circle cx="431.36" cy="84.69" r="0.55" fill="#555" opacity="0.28"/><circle cx="431.8" cy="79.4" r="0.37" fill="#555" opacity="0.24"/><circle cx="438.69" cy="77.56" r="0.58" fill="#555" opacity="0.31"/><circle cx="433.24" cy="86.74" r="0.56" fill="#555" opacity="0.15"/><circle cx="433.62" cy="79.11" r="0.38" fill="#555" opacity="0.46"/><circle cx="437.51" cy="81.16" r="0.6" fill="#555" opacity="0.3"/><circle cx="436.4" cy="81.95" r="0.41" fill="#555" opacity="0.41"/><circle cx="441.87" cy="85.27" r="0.44" fill="#555" opacity="0.49"/>
<circle cx="436.97" cy="68.44" r="0.56" fill="#555" opacity="0.26"/><circle cx="432.93" cy="65.75" r="0.5" fill="#555" opacity="0.24"/><circle cx="432.44" cy="67.14" r="0.46" fill="#555" opacity="0.21"/><circle cx="432.26" cy="58.41" r="0.59" fill="#555" opacity="0.23"/><circle cx="431.28" cy="68.81" r="0.36" fill="#555" opacity="0.15"/><circle cx="430.73" cy="68.57" r="0.45" fill="#555" opacity="0.28"/><circle cx="428.67" cy="67.38" r="0.41" fill="#555" opacity="0.15"/><circle cx="433.77" cy="69.45" r="0.48" fill="#555" opacity="0.3"/><circle cx="433.55" cy="66.31" r="0.57" fill="#555" opacity="0.27"/><circle cx="433.93" cy="61.5" r="0.54" fill="#555" opacity="0.27"/><circle cx="437.88" cy="67.58" r="0.54" fill="#555" opacity="0.26"/><circle cx="429.03" cy="68.89" r="0.47" fill="#555" opacity="0.29"/><circle cx="428.71" cy="72.93" r="0.57" fill="#555" opacity="0.22"/><circle cx="434.05" cy="64.58" r="0.41" fill="#555" opacity="0.2"/><circle cx="434.06" cy="66.28" r="0.58" fill="#555" opacity="0.19"/><circle cx="438.65" cy="66.64" r="0.59" fill="#555" opacity="0.26"/><circle cx="428.96" cy="67.9" r="0.51" fill="#555" opacity="0.24"/><circle cx="433.71" cy="69.9" r="0.48" fill="#555" opacity="0.29"/><circle cx="433.59" cy="67.17" r="0.56" fill="#555" opacity="0.26"/><circle cx="437.73" cy="66.93" r="0.54" fill="#555" opacity="0.16"/><circle cx="432.71" cy="66.04" r="0.41" fill="#555" opacity="0.28"/><circle cx="439.77" cy="70.26" r="0.56" fill="#555" opacity="0.19"/><circle cx="437.53" cy="74" r="0.46" fill="#555" opacity="0.26"/><circle cx="439.65" cy="68.57" r="0.39" fill="#555" opacity="0.25"/><circle cx="442.98" cy="68.77" r="0.36" fill="#555" opacity="0.19"/><circle cx="436.13" cy="66.38" r="0.4" fill="#555" opacity="0.25"/><circle cx="433.88" cy="68.59" r="0.6" fill="#555" opacity="0.17"/><circle cx="439.47" cy="68.62" r="0.5" fill="#555" opacity="0.26"/><circle cx="438.44" cy="69.78" r="0.36" fill="#555" opacity="0.22"/><circle cx="435.82" cy="63.1" r="0.58" fill="#555" opacity="0.26"/><circle cx="440.07" cy="64.43" r="0.47" fill="#555" opacity="0.18"/><circle cx="432.68" cy="65.78" r="0.38" fill="#555" opacity="0.22"/><circle cx="436.84" cy="66.89" r="0.5" fill="#555" opacity="0.21"/><circle cx="432.23" cy="67.84" r="0.59" fill="#555" opacity="0.19"/><circle cx="430.9" cy="66.06" r="0.35" fill="#555" opacity="0.23"/>
<ellipse cx="487.2" cy="80" rx="7.6" ry="5.6" fill="#e6e6e6" stroke="#b0b0b0" stroke-width="0.6"/>
<ellipse cx="487" cy="80.6" rx="6.6" ry="4.6" fill="none" stroke="#909090" stroke-width="0.6" opacity="0.5"/>
<ellipse cx="487" cy="80.6" rx="5.6" ry="3.6" fill="none" stroke="#808080" stroke-width="0.6" opacity="0.6"/>
<ellipse cx="487" cy="80.6" rx="4.6" ry="2.6" fill="none" stroke="#707070" stroke-width="0.6" opacity="0.7"/>
<ellipse cx="487" cy="80.6" rx="3.4" ry="1.6" fill="none" stroke="#606060" stroke-width="0.6" opacity="0.7"/>
<path d="M481 83.5 Q487 86.5 493.5 83" stroke="#666" stroke-width="0.9" fill="none" opacity="0.6"/>
<circle cx="487.43" cy="84.5" r="0.44" fill="#555" opacity="0.36"/><circle cx="485.83" cy="79.66" r="0.35" fill="#555" opacity="0.44"/><circle cx="486.81" cy="82.83" r="0.6" fill="#555" opacity="0.31"/><circle cx="489.65" cy="77.38" r="0.51" fill="#555" opacity="0.2"/><circle cx="481" cy="75.67" r="0.48" fill="#555" opacity="0.41"/><circle cx="486.22" cy="79.47" r="0.54" fill="#555" opacity="0.36"/><circle cx="486.64" cy="81.26" r="0.57" fill="#555" opacity="0.32"/><circle cx="485.2" cy="74.05" r="0.53" fill="#555" opacity="0.47"/><circle cx="480.61" cy="84.02" r="0.46" fill="#555" opacity="0.48"/><circle cx="488.48" cy="79.5" r="0.38" fill="#555" opacity="0.23"/><circle cx="491.7" cy="79.76" r="0.51" fill="#555" opacity="0.26"/><circle cx="482.56" cy="80.36" r="0.44" fill="#555" opacity="0.35"/><circle cx="478.59" cy="77" r="0.52" fill="#555" opacity="0.48"/><circle cx="495.56" cy="72.79" r="0.52" fill="#555" opacity="0.21"/><circle cx="494.45" cy="74.15" r="0.58" fill="#555" opacity="0.35"/><circle cx="486.3" cy="78.35" r="0.56" fill="#555" opacity="0.35"/><circle cx="486.64" cy="81.63" r="0.56" fill="#555" opacity="0.5"/><circle cx="493.86" cy="83.53" r="0.45" fill="#555" opacity="0.2"/><circle cx="484.9" cy="85.77" r="0.57" fill="#555" opacity="0.17"/><circle cx="485.97" cy="79.86" r="0.53" fill="#555" opacity="0.27"/><circle cx="496.26" cy="74.38" r="0.48" fill="#555" opacity="0.5"/><circle cx="486.34" cy="81.69" r="0.5" fill="#555" opacity="0.16"/><circle cx="488.5" cy="83.6" r="0.5" fill="#555" opacity="0.2"/><circle cx="495.73" cy="82.2" r="0.43" fill="#555" opacity="0.49"/><circle cx="490.49" cy="78.62" r="0.47" fill="#555" opacity="0.33"/><circle cx="483.26" cy="77.12" r="0.49" fill="#555" opacity="0.37"/><circle cx="491.98" cy="79.11" r="0.46" fill="#555" opacity="0.4"/><circle cx="487.3" cy="83.2" r="0.59" fill="#555" opacity="0.33"/><circle cx="486.35" cy="80.35" r="0.45" fill="#555" opacity="0.35"/><circle cx="493.17" cy="81.06" r="0.51" fill="#555" opacity="0.17"/><circle cx="483.49" cy="77.93" r="0.52" fill="#555" opacity="0.27"/><circle cx="485.03" cy="75.45" r="0.36" fill="#555" opacity="0.17"/><circle cx="481.81" cy="73.15" r="0.41" fill="#555" opacity="0.31"/><circle cx="483.7" cy="78.95" r="0.44" fill="#555" opacity="0.26"/><circle cx="482.88" cy="83.65" r="0.43" fill="#555" opacity="0.28"/><circle cx="487.15" cy="79.76" r="0.49" fill="#555" opacity="0.41"/><circle cx="485.82" cy="82.61" r="0.55" fill="#555" opacity="0.23"/><circle cx="488.84" cy="83.66" r="0.52" fill="#555" opacity="0.19"/><circle cx="485.23" cy="83.09" r="0.56" fill="#555" opacity="0.3"/><circle cx="488.69" cy="78.96" r="0.43" fill="#555" opacity="0.38"/><circle cx="490.7" cy="78.18" r="0.41" fill="#555" opacity="0.19"/><circle cx="484.12" cy="80.11" r="0.55" fill="#555" opacity="0.44"/><circle cx="488.47" cy="82.86" r="0.55" fill="#555" opacity="0.37"/><circle cx="488.43" cy="77.74" r="0.38" fill="#555" opacity="0.25"/><circle cx="487.97" cy="78.05" r="0.44" fill="#555" opacity="0.3"/><circle cx="482.96" cy="82.09" r="0.58" fill="#555" opacity="0.2"/><circle cx="497.78" cy="80.72" r="0.57" fill="#555" opacity="0.5"/><circle cx="476.9" cy="83.64" r="0.58" fill="#555" opacity="0.23"/><circle cx="486.76" cy="74.41" r="0.52" fill="#555" opacity="0.33"/><circle cx="486" cy="83.34" r="0.41" fill="#555" opacity="0.17"/><circle cx="483.86" cy="79.11" r="0.55" fill="#555" opacity="0.17"/><circle cx="492.69" cy="77.7" r="0.58" fill="#555" opacity="0.46"/><circle cx="491.77" cy="78.03" r="0.35" fill="#555" opacity="0.41"/><circle cx="488.79" cy="82.88" r="0.52" fill="#555" opacity="0.33"/><circle cx="477.88" cy="84.4" r="0.5" fill="#555" opacity="0.27"/><circle cx="486.86" cy="86.86" r="0.47" fill="#555" opacity="0.42"/><circle cx="485.22" cy="82.2" r="0.48" fill="#555" opacity="0.44"/><circle cx="490.78" cy="85.49" r="0.58" fill="#555" opacity="0.43"/><circle cx="487.25" cy="80.15" r="0.51" fill="#555" opacity="0.45"/><circle cx="490.41" cy="81.29" r="0.42" fill="#555" opacity="0.33"/><circle cx="482.49" cy="82.18" r="0.54" fill="#555" opacity="0.15"/><circle cx="489.21" cy="81.06" r="0.38" fill="#555" opacity="0.17"/><circle cx="495.72" cy="79.51" r="0.37" fill="#555" opacity="0.33"/><circle cx="485.43" cy="83.05" r="0.44" fill="#555" opacity="0.38"/><circle cx="483.36" cy="78.93" r="0.4" fill="#555" opacity="0.27"/><circle cx="491.08" cy="83.36" r="0.53" fill="#555" opacity="0.28"/><circle cx="489.47" cy="81.47" r="0.44" fill="#555" opacity="0.36"/><circle cx="487.9" cy="77.44" r="0.55" fill="#555" opacity="0.37"/><circle cx="483.05" cy="81.79" r="0.47" fill="#555" opacity="0.4"/><circle cx="480.92" cy="82.86" r="0.47" fill="#555" opacity="0.24"/>
<circle cx="489.2" cy="68.39" r="0.45" fill="#555" opacity="0.17"/><circle cx="493.63" cy="68.23" r="0.58" fill="#555" opacity="0.27"/><circle cx="489.34" cy="64.88" r="0.48" fill="#555" opacity="0.19"/><circle cx="490.11" cy="68.26" r="0.4" fill="#555" opacity="0.29"/><circle cx="493.31" cy="62.22" r="0.55" fill="#555" opacity="0.18"/><circle cx="486.42" cy="70.92" r="0.53" fill="#555" opacity="0.28"/><circle cx="490.55" cy="66.13" r="0.5" fill="#555" opacity="0.25"/><circle cx="485.87" cy="66.93" r="0.47" fill="#555" opacity="0.16"/><circle cx="498.18" cy="64.6" r="0.49" fill="#555" opacity="0.2"/><circle cx="494.48" cy="64.88" r="0.57" fill="#555" opacity="0.28"/><circle cx="483.84" cy="66.84" r="0.5" fill="#555" opacity="0.21"/><circle cx="491.26" cy="69.17" r="0.55" fill="#555" opacity="0.16"/><circle cx="495.72" cy="68.21" r="0.42" fill="#555" opacity="0.23"/><circle cx="484.49" cy="67.49" r="0.6" fill="#555" opacity="0.18"/><circle cx="486.13" cy="68.05" r="0.51" fill="#555" opacity="0.19"/><circle cx="483.89" cy="70.91" r="0.43" fill="#555" opacity="0.23"/><circle cx="490.9" cy="66.22" r="0.37" fill="#555" opacity="0.18"/><circle cx="489.66" cy="62.87" r="0.41" fill="#555" opacity="0.2"/><circle cx="491.44" cy="69.99" r="0.36" fill="#555" opacity="0.25"/><circle cx="498.87" cy="62.46" r="0.53" fill="#555" opacity="0.29"/><circle cx="493.1" cy="67.28" r="0.59" fill="#555" opacity="0.27"/><circle cx="482.29" cy="63.2" r="0.42" fill="#555" opacity="0.18"/><circle cx="486.46" cy="67.56" r="0.45" fill="#555" opacity="0.29"/><circle cx="488.66" cy="67.36" r="0.36" fill="#555" opacity="0.18"/><circle cx="490" cy="64.22" r="0.42" fill="#555" opacity="0.16"/><circle cx="494.22" cy="66.64" r="0.4" fill="#555" opacity="0.16"/><circle cx="491.86" cy="67.62" r="0.52" fill="#555" opacity="0.17"/><circle cx="494.62" cy="67.89" r="0.41" fill="#555" opacity="0.3"/><circle cx="493.41" cy="69.56" r="0.54" fill="#555" opacity="0.21"/><circle cx="494.68" cy="66.74" r="0.41" fill="#555" opacity="0.21"/><circle cx="494.09" cy="67.72" r="0.41" fill="#555" opacity="0.28"/><circle cx="491.86" cy="63.92" r="0.36" fill="#555" opacity="0.19"/><circle cx="489.16" cy="69.05" r="0.41" fill="#555" opacity="0.28"/><circle cx="490.02" cy="67.76" r="0.58" fill="#555" opacity="0.23"/><circle cx="494.07" cy="66.82" r="0.58" fill="#555" opacity="0.25"/><circle cx="491.1" cy="62.2" r="0.47" fill="#555" opacity="0.16"/><circle cx="491.47" cy="72.92" r="0.57" fill="#555" opacity="0.29"/><circle cx="485.21" cy="70.75" r="0.55" fill="#555" opacity="0.25"/><circle cx="491.43" cy="63.62" r="0.51" fill="#555" opacity="0.25"/>
<path d="M428.4 124.5 C428.4 121.5, 429.4 119.8, 430.6 120.4 C431.2 123.2, 432.6 126, 436 127.4" stroke="#808080" stroke-width="0.9" fill="none" opacity="1.0"/>
<path d="M430.4 119.6 L437 127.6" stroke="#aaa" stroke-width="0.8" fill="none" opacity="1.0"/>
<circle cx="428.87" cy="120.06" r="0.55" fill="#555" opacity="0.34"/><circle cx="432.5" cy="116.73" r="0.36" fill="#555" opacity="0.24"/><circle cx="437.75" cy="121.99" r="0.58" fill="#555" opacity="0.17"/><circle cx="430.42" cy="123.94" r="0.49" fill="#555" opacity="0.26"/><circle cx="435.44" cy="123.67" r="0.42" fill="#555" opacity="0.33"/><circle cx="433.2" cy="121.74" r="0.55" fill="#555" opacity="0.18"/><circle cx="431.65" cy="122.45" r="0.35" fill="#555" opacity="0.32"/><circle cx="433.61" cy="125.52" r="0.6" fill="#555" opacity="0.32"/><circle cx="427.89" cy="122.4" r="0.4" fill="#555" opacity="0.34"/><circle cx="429.68" cy="116.22" r="0.57" fill="#555" opacity="0.21"/><circle cx="431.64" cy="124.88" r="0.39" fill="#555" opacity="0.16"/><circle cx="431.49" cy="127.37" r="0.35" fill="#555" opacity="0.29"/><circle cx="431.42" cy="125.7" r="0.55" fill="#555" opacity="0.25"/><circle cx="431.39" cy="126.65" r="0.53" fill="#555" opacity="0.16"/><circle cx="433.74" cy="123.4" r="0.54" fill="#555" opacity="0.32"/><circle cx="439.12" cy="124.1" r="0.44" fill="#555" opacity="0.27"/><circle cx="434.08" cy="123.55" r="0.4" fill="#555" opacity="0.34"/><circle cx="434.94" cy="128.26" r="0.58" fill="#555" opacity="0.34"/><circle cx="431.17" cy="125.83" r="0.48" fill="#555" opacity="0.31"/><circle cx="437.53" cy="126.63" r="0.55" fill="#555" opacity="0.32"/><circle cx="441.23" cy="125.15" r="0.37" fill="#555" opacity="0.22"/><circle cx="426.99" cy="119.2" r="0.43" fill="#555" opacity="0.33"/><circle cx="430.09" cy="122.77" r="0.43" fill="#555" opacity="0.19"/><circle cx="434.75" cy="124.3" r="0.52" fill="#555" opacity="0.35"/><circle cx="433.58" cy="124.3" r="0.6" fill="#555" opacity="0.26"/><circle cx="430.86" cy="124.73" r="0.5" fill="#555" opacity="0.32"/><circle cx="429.48" cy="124.36" r="0.36" fill="#555" opacity="0.33"/><circle cx="437" cy="124.21" r="0.56" fill="#555" opacity="0.18"/><circle cx="432.02" cy="116.21" r="0.51" fill="#555" opacity="0.31"/><circle cx="435.93" cy="125.49" r="0.39" fill="#555" opacity="0.32"/><circle cx="431.93" cy="126.67" r="0.6" fill="#555" opacity="0.32"/><circle cx="436.8" cy="123" r="0.47" fill="#555" opacity="0.3"/><circle cx="430.12" cy="123.83" r="0.45" fill="#555" opacity="0.18"/><circle cx="437.76" cy="122.45" r="0.47" fill="#555" opacity="0.22"/><circle cx="435.36" cy="124.77" r="0.55" fill="#555" opacity="0.32"/><circle cx="429.04" cy="127.53" r="0.54" fill="#555" opacity="0.29"/><circle cx="429.96" cy="119.16" r="0.44" fill="#555" opacity="0.29"/><circle cx="432.22" cy="126.89" r="0.54" fill="#555" opacity="0.29"/>
<ellipse cx="434.2" cy="133.2" rx="6.8" ry="3.6" fill="#e6e6e6" stroke="#b0b0b0" stroke-width="0.6"/>
<ellipse cx="434.2" cy="133.6" rx="5.6" ry="2.7" fill="none" stroke="#909090" stroke-width="0.6" opacity="0.8"/>
<ellipse cx="434.2" cy="133.6" rx="4.4" ry="1.9" fill="none" stroke="#777" stroke-width="0.6" opacity="0.8"/>
<ellipse cx="434.2" cy="133.6" rx="3.2" ry="1.1" fill="none" stroke="#5a5a5a" stroke-width="0.6" opacity="0.8"/>
<path d="M429 136 C429 139, 431 141, 433 141 M436 137 C437 139, 436 141, 435 141.5" stroke="#aaa" stroke-width="0.7" fill="none" opacity="1.0"/>
<circle cx="436.1" cy="129.49" r="0.47" fill="#555" opacity="0.24"/><circle cx="440.19" cy="134.51" r="0.47" fill="#555" opacity="0.42"/><circle cx="428.97" cy="137.93" r="0.42" fill="#555" opacity="0.43"/><circle cx="433.45" cy="131.63" r="0.48" fill="#555" opacity="0.39"/><circle cx="435.87" cy="137.83" r="0.55" fill="#555" opacity="0.24"/><circle cx="436.1" cy="130.48" r="0.56" fill="#555" opacity="0.27"/><circle cx="440.28" cy="137.28" r="0.55" fill="#555" opacity="0.31"/><circle cx="436.31" cy="135.53" r="0.51" fill="#555" opacity="0.25"/><circle cx="439.34" cy="133.38" r="0.4" fill="#555" opacity="0.38"/><circle cx="427.76" cy="139.5" r="0.58" fill="#555" opacity="0.33"/><circle cx="430" cy="131.08" r="0.55" fill="#555" opacity="0.49"/><circle cx="437.91" cy="134.97" r="0.5" fill="#555" opacity="0.26"/><circle cx="432.46" cy="133.86" r="0.57" fill="#555" opacity="0.33"/><circle cx="438.6" cy="137.27" r="0.43" fill="#555" opacity="0.22"/><circle cx="431.72" cy="134.66" r="0.4" fill="#555" opacity="0.45"/><circle cx="433.79" cy="134.08" r="0.54" fill="#555" opacity="0.16"/><circle cx="429.47" cy="139.76" r="0.51" fill="#555" opacity="0.26"/><circle cx="431.01" cy="136.44" r="0.38" fill="#555" opacity="0.5"/><circle cx="438.15" cy="135.47" r="0.54" fill="#555" opacity="0.29"/><circle cx="437.13" cy="134.25" r="0.59" fill="#555" opacity="0.46"/><circle cx="429.76" cy="129.35" r="0.46" fill="#555" opacity="0.44"/><circle cx="435.45" cy="131.26" r="0.47" fill="#555" opacity="0.4"/><circle cx="432.5" cy="135.14" r="0.54" fill="#555" opacity="0.24"/><circle cx="426.67" cy="134.88" r="0.39" fill="#555" opacity="0.16"/><circle cx="438" cy="137.12" r="0.44" fill="#555" opacity="0.24"/><circle cx="424.82" cy="136.42" r="0.41" fill="#555" opacity="0.29"/><circle cx="438.2" cy="131.85" r="0.42" fill="#555" opacity="0.32"/><circle cx="431.7" cy="134.71" r="0.44" fill="#555" opacity="0.26"/><circle cx="435.25" cy="132.17" r="0.51" fill="#555" opacity="0.49"/><circle cx="437.61" cy="133.24" r="0.5" fill="#555" opacity="0.26"/><circle cx="430.1" cy="136.43" r="0.55" fill="#555" opacity="0.48"/><circle cx="433.88" cy="134.8" r="0.46" fill="#555" opacity="0.17"/><circle cx="441.11" cy="135.41" r="0.38" fill="#555" opacity="0.4"/><circle cx="427.58" cy="139.54" r="0.56" fill="#555" opacity="0.17"/><circle cx="437.6" cy="140.86" r="0.5" fill="#555" opacity="0.3"/><circle cx="435.55" cy="129.47" r="0.47" fill="#555" opacity="0.31"/><circle cx="437.22" cy="136.06" r="0.39" fill="#555" opacity="0.37"/><circle cx="432.16" cy="133.53" r="0.51" fill="#555" opacity="0.18"/><circle cx="438.77" cy="136.98" r="0.47" fill="#555" opacity="0.46"/><circle cx="429.51" cy="131.34" r="0.38" fill="#555" opacity="0.44"/><circle cx="439.04" cy="136.45" r="0.58" fill="#555" opacity="0.47"/><circle cx="437.61" cy="132.59" r="0.52" fill="#555" opacity="0.43"/><circle cx="440.56" cy="139.59" r="0.58" fill="#555" opacity="0.3"/><circle cx="434.81" cy="131.5" r="0.42" fill="#555" opacity="0.4"/><circle cx="440.94" cy="136.46" r="0.59" fill="#555" opacity="0.25"/><circle cx="435.63" cy="134.07" r="0.56" fill="#555" opacity="0.25"/><circle cx="438.36" cy="133.87" r="0.58" fill="#555" opacity="0.16"/><circle cx="440.64" cy="137.14" r="0.51" fill="#555" opacity="0.34"/><circle cx="436.54" cy="134.85" r="0.44" fill="#555" opacity="0.17"/><circle cx="441.14" cy="134.29" r="0.59" fill="#555" opacity="0.4"/><circle cx="433.06" cy="135.44" r="0.53" fill="#555" opacity="0.19"/><circle cx="429.51" cy="133.59" r="0.47" fill="#555" opacity="0.18"/><circle cx="438.55" cy="136.02" r="0.36" fill="#555" opacity="0.33"/><circle cx="436" cy="136.35" r="0.39" fill="#555" opacity="0.35"/><circle cx="431.72" cy="135.78" r="0.41" fill="#555" opacity="0.35"/><circle cx="437.7" cy="132.95" r="0.39" fill="#555" opacity="0.26"/><circle cx="434.33" cy="138.14" r="0.55" fill="#555" opacity="0.35"/><circle cx="435.41" cy="136.8" r="0.45" fill="#555" opacity="0.3"/><circle cx="422.36" cy="140.32" r="0.49" fill="#555" opacity="0.38"/><circle cx="432.73" cy="130.56" r="0.55" fill="#555" opacity="0.28"/>
<path d="M481.6 128.2 L488 120.8" stroke="#8a8a8a" stroke-width="1.3" fill="none" opacity="0.8"/>
<path d="M483 127 L497 127" stroke="#aaa" stroke-width="0.6" fill="none" opacity="0.6"/>
<circle cx="486.85" cy="125.03" r="0.51" fill="#555" opacity="0.16"/><circle cx="483.81" cy="122.86" r="0.36" fill="#555" opacity="0.23"/><circle cx="492.67" cy="124.25" r="0.37" fill="#555" opacity="0.16"/><circle cx="480.5" cy="126.07" r="0.38" fill="#555" opacity="0.18"/><circle cx="480.39" cy="118.27" r="0.49" fill="#555" opacity="0.21"/><circle cx="489.37" cy="123.36" r="0.56" fill="#555" opacity="0.19"/><circle cx="489.39" cy="124.68" r="0.43" fill="#555" opacity="0.27"/><circle cx="490.5" cy="127.09" r="0.51" fill="#555" opacity="0.21"/><circle cx="486.45" cy="123.18" r="0.36" fill="#555" opacity="0.18"/><circle cx="485.99" cy="120.63" r="0.43" fill="#555" opacity="0.24"/><circle cx="484.36" cy="124.23" r="0.55" fill="#555" opacity="0.25"/><circle cx="488.22" cy="127.42" r="0.48" fill="#555" opacity="0.28"/><circle cx="487.52" cy="121.05" r="0.6" fill="#555" opacity="0.17"/><circle cx="481.41" cy="125.98" r="0.39" fill="#555" opacity="0.22"/><circle cx="494.48" cy="124.59" r="0.54" fill="#555" opacity="0.24"/><circle cx="490.77" cy="121.66" r="0.52" fill="#555" opacity="0.24"/><circle cx="483.65" cy="121.91" r="0.56" fill="#555" opacity="0.29"/><circle cx="481.44" cy="124.22" r="0.37" fill="#555" opacity="0.26"/><circle cx="489.61" cy="121.29" r="0.45" fill="#555" opacity="0.25"/><circle cx="492.96" cy="123.97" r="0.39" fill="#555" opacity="0.17"/><circle cx="495.17" cy="125.36" r="0.38" fill="#555" opacity="0.19"/><circle cx="480.94" cy="127.35" r="0.37" fill="#555" opacity="0.22"/><circle cx="491.79" cy="118.07" r="0.42" fill="#555" opacity="0.21"/><circle cx="490.48" cy="123.05" r="0.39" fill="#555" opacity="0.18"/><circle cx="488.54" cy="126.94" r="0.5" fill="#555" opacity="0.19"/><circle cx="492.69" cy="123.58" r="0.44" fill="#555" opacity="0.23"/><circle cx="494.59" cy="122.17" r="0.48" fill="#555" opacity="0.24"/><circle cx="487.33" cy="122.61" r="0.57" fill="#555" opacity="0.27"/><circle cx="493.67" cy="119.7" r="0.45" fill="#555" opacity="0.21"/><circle cx="493.08" cy="126.08" r="0.37" fill="#555" opacity="0.16"/><circle cx="488.69" cy="125.23" r="0.44" fill="#555" opacity="0.16"/><circle cx="490.58" cy="123.5" r="0.38" fill="#555" opacity="0.2"/><circle cx="497.05" cy="124.47" r="0.5" fill="#555" opacity="0.17"/><circle cx="487.94" cy="126.27" r="0.44" fill="#555" opacity="0.17"/><circle cx="496.27" cy="115.81" r="0.47" fill="#555" opacity="0.22"/><circle cx="489.79" cy="124.22" r="0.44" fill="#555" opacity="0.19"/><circle cx="489.27" cy="121.93" r="0.36" fill="#555" opacity="0.29"/>
<ellipse cx="485.8" cy="133.4" rx="6.6" ry="3.6" fill="#e6e6e6" stroke="#b0b0b0" stroke-width="0.6"/>
<ellipse cx="485.8" cy="133.6" rx="5.4" ry="2.7" fill="none" stroke="#858585" stroke-width="0.6" opacity="0.85"/>
<ellipse cx="485.8" cy="133.6" rx="4.2" ry="1.9" fill="none" stroke="#666" stroke-width="0.6" opacity="0.85"/>
<ellipse cx="485.8" cy="133.6" rx="3.0" ry="1.1" fill="none" stroke="#505050" stroke-width="0.6" opacity="0.85"/>
<path d="M481 136.5 C481 139, 483 140.5, 485 140.5 M489 137 C490 139, 489 140.5, 487.5 141" stroke="#aaa" stroke-width="0.7" fill="none" opacity="1.0"/>
<circle cx="487.64" cy="141.59" r="0.38" fill="#555" opacity="0.4"/><circle cx="488.85" cy="135.58" r="0.6" fill="#555" opacity="0.22"/><circle cx="482.93" cy="132.09" r="0.46" fill="#555" opacity="0.32"/><circle cx="488.94" cy="139.43" r="0.37" fill="#555" opacity="0.23"/><circle cx="489.44" cy="134.78" r="0.45" fill="#555" opacity="0.47"/><circle cx="484.43" cy="135.45" r="0.41" fill="#555" opacity="0.5"/><circle cx="491.65" cy="136" r="0.44" fill="#555" opacity="0.38"/><circle cx="482.44" cy="138.15" r="0.47" fill="#555" opacity="0.38"/><circle cx="490.73" cy="132.35" r="0.39" fill="#555" opacity="0.17"/><circle cx="490.81" cy="133.42" r="0.4" fill="#555" opacity="0.48"/><circle cx="479.75" cy="132.35" r="0.57" fill="#555" opacity="0.25"/><circle cx="480.39" cy="139" r="0.38" fill="#555" opacity="0.42"/><circle cx="491.51" cy="136.97" r="0.53" fill="#555" opacity="0.48"/><circle cx="488.89" cy="131.74" r="0.4" fill="#555" opacity="0.2"/><circle cx="480.83" cy="133.9" r="0.37" fill="#555" opacity="0.47"/><circle cx="479.17" cy="134.3" r="0.4" fill="#555" opacity="0.24"/><circle cx="490.02" cy="134.69" r="0.42" fill="#555" opacity="0.3"/><circle cx="480.03" cy="138.21" r="0.57" fill="#555" opacity="0.21"/><circle cx="483.89" cy="135.52" r="0.52" fill="#555" opacity="0.49"/><circle cx="488.24" cy="139.06" r="0.43" fill="#555" opacity="0.15"/><circle cx="486.36" cy="131.95" r="0.39" fill="#555" opacity="0.3"/><circle cx="486.52" cy="137.36" r="0.46" fill="#555" opacity="0.3"/><circle cx="482.92" cy="133.28" r="0.37" fill="#555" opacity="0.18"/><circle cx="490.19" cy="136.61" r="0.44" fill="#555" opacity="0.43"/><circle cx="479.1" cy="134.36" r="0.6" fill="#555" opacity="0.17"/><circle cx="488.41" cy="134.66" r="0.45" fill="#555" opacity="0.35"/><circle cx="485.84" cy="131.9" r="0.59" fill="#555" opacity="0.15"/><circle cx="487.55" cy="132.85" r="0.57" fill="#555" opacity="0.16"/><circle cx="493.25" cy="133.47" r="0.6" fill="#555" opacity="0.35"/><circle cx="491.1" cy="141.16" r="0.46" fill="#555" opacity="0.18"/><circle cx="481.93" cy="132.48" r="0.47" fill="#555" opacity="0.2"/><circle cx="490.18" cy="137.06" r="0.46" fill="#555" opacity="0.19"/><circle cx="479.43" cy="136.17" r="0.53" fill="#555" opacity="0.31"/><circle cx="482.73" cy="136.14" r="0.41" fill="#555" opacity="0.22"/><circle cx="484.01" cy="134.94" r="0.53" fill="#555" opacity="0.4"/><circle cx="485.28" cy="134.11" r="0.44" fill="#555" opacity="0.3"/><circle cx="495.61" cy="138.56" r="0.54" fill="#555" opacity="0.33"/><circle cx="485.18" cy="132.7" r="0.41" fill="#555" opacity="0.33"/><circle cx="485.76" cy="130.46" r="0.35" fill="#555" opacity="0.36"/><circle cx="492.1" cy="132" r="0.58" fill="#555" opacity="0.49"/><circle cx="486.61" cy="136.82" r="0.49" fill="#555" opacity="0.49"/><circle cx="478.86" cy="139.38" r="0.56" fill="#555" opacity="0.33"/><circle cx="478.2" cy="129.53" r="0.55" fill="#555" opacity="0.25"/><circle cx="487.64" cy="132.98" r="0.44" fill="#555" opacity="0.49"/><circle cx="488.18" cy="132.51" r="0.42" fill="#555" opacity="0.36"/><circle cx="489.67" cy="130.95" r="0.58" fill="#555" opacity="0.4"/><circle cx="488.58" cy="131.06" r="0.44" fill="#555" opacity="0.3"/><circle cx="480.61" cy="134.72" r="0.56" fill="#555" opacity="0.24"/><circle cx="492.5" cy="136.4" r="0.42" fill="#555" opacity="0.3"/><circle cx="492.14" cy="138.03" r="0.42" fill="#555" opacity="0.25"/><circle cx="487.74" cy="131.37" r="0.42" fill="#555" opacity="0.46"/><circle cx="482.46" cy="135.9" r="0.59" fill="#555" opacity="0.43"/><circle cx="485.95" cy="132.38" r="0.55" fill="#555" opacity="0.36"/><circle cx="488.02" cy="132.15" r="0.55" fill="#555" opacity="0.43"/><circle cx="481.11" cy="137.14" r="0.55" fill="#555" opacity="0.5"/><circle cx="492.78" cy="132.14" r="0.38" fill="#555" opacity="0.36"/><circle cx="485.25" cy="133.4" r="0.47" fill="#555" opacity="0.45"/><circle cx="494.3" cy="130.93" r="0.37" fill="#555" opacity="0.36"/><circle cx="490.23" cy="131.45" r="0.43" fill="#555" opacity="0.16"/><circle cx="493.63" cy="131.82" r="0.51" fill="#555" opacity="0.28"/>
<path d="M426.1 49.7 L445.5 49.2 L444.6 73.8 L425.6 74.3 Z" stroke="#6a6a6a" stroke-width="0.75" fill="none"/>
<path d="M480.2 49.9 L499.9 49.1 L499.6 72.7 L480.7 73.4 Z" stroke="#606060" stroke-width="0.75" fill="none"/>
<path d="M426.3 108.8 L446 108.4 L446 128.3 L426.5 128.8 Z" stroke="#606060" stroke-width="0.75" fill="none"/>
<path d="M479.7 108.4 L499.9 108 L499.5 128.3 L479.5 128.8 Z" stroke="#606060" stroke-width="0.75" fill="none"/>
<line x1="405.3" y1="72" x2="405.3" y2="89.6" stroke="#333" stroke-width="1.4"/>
<text x="398.9" y="88.25" font-size="7.6" fill="#333333" stroke="#333333" stroke-width="0.12" transform="rotate(-90 398.9 88.25)" textLength="16" lengthAdjust="spacingAndGlyphs">IFNγ</text>
<line x1="405.3" y1="123.4" x2="405.3" y2="140.2" stroke="#333" stroke-width="1.4"/>
<text x="401" y="139.55" font-size="8.2" fill="#333333" stroke="#333333" stroke-width="0.12" transform="rotate(-90 401 139.55)" textLength="15.6" lengthAdjust="spacingAndGlyphs">IL-17</text>
<line x1="409.3" y1="147.7" x2="427" y2="147.7" stroke="#333" stroke-width="1.4"/>
<text x="411.35" y="156.6" font-size="9.2" font-weight="normal" fill="#333333" stroke="#333333" stroke-width="0.12" textLength="12.8" lengthAdjust="spacingAndGlyphs">CD4</text>
<text x="60.45" y="196.9" font-size="9.2" font-weight="normal" fill="#333333" stroke="#333333" stroke-width="0.26" textLength="16.1" lengthAdjust="spacingAndGlyphs">TH1</text>
<text x="26.3" y="276.55" font-size="8.6" fill="#333333" stroke="#333333" stroke-width="0.12" transform="rotate(-90 26.3 276.55)" textLength="53.1" lengthAdjust="spacingAndGlyphs">% of CD4+ T cells</text>
<rect x="20" y="228.5" width="4" height="3.5" fill="#b5b5b5" opacity="0.8"/>
<rect x="52.2" y="251.54" width="12.3" height="46.36" fill="#e98474"/>
<rect x="73" y="271.8" width="12" height="26.09" fill="#8d9ec9"/>
<circle cx="58.5" cy="222.69" r="2.0" stroke="#bf1a30" stroke-width="1.05" fill="none"/>
<circle cx="58.5" cy="227.29" r="2.0" stroke="#bf1a30" stroke-width="1.05" fill="none"/>
<circle cx="58.5" cy="231.89" r="2.0" stroke="#bf1a30" stroke-width="1.05" fill="none"/>
<circle cx="58.5" cy="242.03" r="2.0" stroke="#bf1a30" stroke-width="1.05" fill="none"/>
<circle cx="61" cy="245.71" r="2.0" stroke="#bf1a30" stroke-width="1.05" fill="none"/>
<circle cx="57" cy="248.17" r="2.0" stroke="#bf1a30" stroke-width="1.05" fill="none"/>
<circle cx="52.5" cy="248.17" r="2.0" stroke="#bf1a30" stroke-width="1.05" fill="none"/>
<circle cx="64" cy="249.09" r="2.0" stroke="#bf1a30" stroke-width="1.05" fill="none"/>
<circle cx="56.97" cy="251.24" r="2.0" stroke="#bf1a30" stroke-width="1.05" fill="none"/>
<circle cx="59.07" cy="252.46" r="2.0" stroke="#bf1a30" stroke-width="1.05" fill="none"/>
<circle cx="56" cy="255.84" r="2.0" stroke="#bf1a30" stroke-width="1.05" fill="none"/>
<circle cx="58.5" cy="260.14" r="2.0" stroke="#bf1a30" stroke-width="1.05" fill="none"/>
<circle cx="58.5" cy="286.23" r="2.0" stroke="#bf1a30" stroke-width="1.05" fill="none"/>
<rect x="77.05" y="230.05" width="4.3" height="4.3" stroke="#265483" stroke-width="1.15" fill="none"/>
<rect x="77.05" y="255.53" width="4.3" height="4.3" stroke="#265483" stroke-width="1.15" fill="none"/>
<rect x="77.05" y="269.04" width="4.3" height="4.3" stroke="#265483" stroke-width="1.15" fill="none"/>
<rect x="81.55" y="269.35" width="4.3" height="4.3" stroke="#265483" stroke-width="1.15" fill="none"/>
<rect x="72.55" y="269.35" width="4.3" height="4.3" stroke="#265483" stroke-width="1.15" fill="none"/>
<rect x="71.8" y="272.42" width="4.3" height="4.3" stroke="#265483" stroke-width="1.15" fill="none"/>
<rect x="79.05" y="273.03" width="4.3" height="4.3" stroke="#265483" stroke-width="1.15" fill="none"/>
<rect x="77.05" y="280.4" width="4.3" height="4.3" stroke="#265483" stroke-width="1.15" fill="none"/>
<rect x="81.05" y="282.55" width="4.3" height="4.3" stroke="#265483" stroke-width="1.15" fill="none"/>
<rect x="77.05" y="289.61" width="4.3" height="4.3" stroke="#265483" stroke-width="1.15" fill="none"/>
<rect x="81.55" y="290.84" width="4.3" height="4.3" stroke="#265483" stroke-width="1.15" fill="none"/>
<rect x="73.05" y="292.07" width="4.3" height="4.3" stroke="#265483" stroke-width="1.15" fill="none"/>
<line x1="44.8" y1="203.2" x2="44.8" y2="298.6" stroke="#202020" stroke-width="1.45"/>
<line x1="41.6" y1="297.9" x2="44.8" y2="297.9" stroke="#202020" stroke-width="1.1"/>
<text x="38.8" y="300.46" font-size="7.1" text-anchor="end" font-weight="normal" fill="#555" stroke="#555" stroke-width="0.12">0</text>
<line x1="41.6" y1="282.55" x2="44.8" y2="282.55" stroke="#202020" stroke-width="1.1"/>
<text x="38.8" y="285.11" font-size="7.1" text-anchor="end" font-weight="normal" fill="#555" stroke="#555" stroke-width="0.12">5</text>
<line x1="41.6" y1="267.2" x2="44.8" y2="267.2" stroke="#202020" stroke-width="1.1"/>
<text x="38.8" y="269.76" font-size="7.1" text-anchor="end" font-weight="normal" fill="#555" stroke="#555" stroke-width="0.12">10</text>
<line x1="41.6" y1="251.85" x2="44.8" y2="251.85" stroke="#202020" stroke-width="1.1"/>
<text x="38.8" y="254.41" font-size="7.1" text-anchor="end" font-weight="normal" fill="#555" stroke="#555" stroke-width="0.12">15</text>
<line x1="41.6" y1="236.5" x2="44.8" y2="236.5" stroke="#202020" stroke-width="1.1"/>
<text x="38.8" y="239.06" font-size="7.1" text-anchor="end" font-weight="normal" fill="#555" stroke="#555" stroke-width="0.12">20</text>
<line x1="41.6" y1="221.15" x2="44.8" y2="221.15" stroke="#202020" stroke-width="1.1"/>
<text x="38.8" y="223.71" font-size="7.1" text-anchor="end" font-weight="normal" fill="#555" stroke="#555" stroke-width="0.12">25</text>
<line x1="41.6" y1="205.8" x2="44.8" y2="205.8" stroke="#202020" stroke-width="1.1"/>
<text x="38.8" y="208.36" font-size="7.1" text-anchor="end" font-weight="normal" fill="#555" stroke="#555" stroke-width="0.12">30</text>
<line x1="41.9" y1="297.9" x2="92.8" y2="297.9" stroke="#202020" stroke-width="1.5"/>
<path d="M58.5 218.5 L58.5 214.5 L79.4 214.5 L79.4 228.3" stroke="#3a3a3a" stroke-width="1.05" fill="none"/>
<text x="69" y="214.4" font-size="6.5" text-anchor="middle" font-weight="normal" fill="#333" stroke="#333" stroke-width="0.12">**</text>
<text x="158.35" y="186.5" font-size="9.2" font-weight="normal" fill="#333333" stroke="#333333" stroke-width="0.26" textLength="20.7" lengthAdjust="spacingAndGlyphs">TH17</text>
<text x="126" y="276.35" font-size="8.6" fill="#333333" stroke="#333333" stroke-width="0.12" transform="rotate(-90 126 276.35)" textLength="52.5" lengthAdjust="spacingAndGlyphs">% of CD4+ T cells</text>
<rect x="120" y="229" width="4" height="3.5" fill="#b5b5b5" opacity="0.8"/>
<rect x="152" y="262.48" width="12.5" height="35.42" fill="#e98474"/>
<rect x="172.6" y="282.5" width="12.7" height="15.4" fill="#8d9ec9"/>
<line x1="158.3" y1="262.48" x2="158.3" y2="254.01" stroke="#202020" stroke-width="1.0"/>
<line x1="154.8" y1="254.01" x2="161.8" y2="254.01" stroke="#202020" stroke-width="1.0"/>
<circle cx="158.4" cy="207.04" r="2.0" stroke="#bf1a30" stroke-width="1.05" fill="none"/>
<circle cx="158.4" cy="214.74" r="2.0" stroke="#bf1a30" stroke-width="1.05" fill="none"/>
<circle cx="162.4" cy="217.05" r="2.0" stroke="#bf1a30" stroke-width="1.05" fill="none"/>
<circle cx="158.4" cy="220.9" r="2.0" stroke="#bf1a30" stroke-width="1.05" fill="none"/>
<circle cx="158.4" cy="231.22" r="2.0" stroke="#bf1a30" stroke-width="1.05" fill="none"/>
<circle cx="158.4" cy="238.76" r="2.0" stroke="#bf1a30" stroke-width="1.05" fill="none"/>
<circle cx="161.9" cy="241.54" r="2.0" stroke="#bf1a30" stroke-width="1.05" fill="none"/>
<circle cx="158.4" cy="261.86" r="2.0" stroke="#bf1a30" stroke-width="1.05" fill="none"/>
<circle cx="159.4" cy="266.02" r="2.0" stroke="#bf1a30" stroke-width="1.05" fill="none"/>
<circle cx="155.4" cy="268.02" r="2.0" stroke="#bf1a30" stroke-width="1.05" fill="none"/>
<circle cx="158.4" cy="280.34" r="2.0" stroke="#bf1a30" stroke-width="1.05" fill="none"/>
<circle cx="162.9" cy="281.27" r="2.0" stroke="#bf1a30" stroke-width="1.05" fill="none"/>
<circle cx="158.4" cy="286.04" r="2.0" stroke="#bf1a30" stroke-width="1.05" fill="none"/>
<circle cx="158.4" cy="290.82" r="2.0" stroke="#bf1a30" stroke-width="1.05" fill="none"/>
<circle cx="158.4" cy="295.28" r="2.0" stroke="#bf1a30" stroke-width="1.05" fill="none"/>
<circle cx="162.9" cy="295.28" r="2.0" stroke="#bf1a30" stroke-width="1.05" fill="none"/>
<circle cx="153.9" cy="295.28" r="2.0" stroke="#bf1a30" stroke-width="1.05" fill="none"/>
<circle cx="152.67" cy="295.28" r="2.0" stroke="#bf1a30" stroke-width="1.05" fill="none"/>
<circle cx="154.58" cy="295.28" r="2.0" stroke="#bf1a30" stroke-width="1.05" fill="none"/>
<line x1="178.9" y1="282.5" x2="178.9" y2="279.42" stroke="#202020" stroke-width="1.0"/>
<line x1="175.9" y1="279.42" x2="181.9" y2="279.42" stroke="#202020" stroke-width="1.0"/>
<rect x="176.65" y="243.39" width="4.3" height="4.3" stroke="#265483" stroke-width="1.15" fill="none"/>
<rect x="176.65" y="251.09" width="4.3" height="4.3" stroke="#265483" stroke-width="1.15" fill="none"/>
<rect x="176.65" y="260.33" width="4.3" height="4.3" stroke="#265483" stroke-width="1.15" fill="none"/>
<rect x="176.65" y="265.72" width="4.3" height="4.3" stroke="#265483" stroke-width="1.15" fill="none"/>
<rect x="176.65" y="269.57" width="4.3" height="4.3" stroke="#265483" stroke-width="1.15" fill="none"/>
<rect x="176.75" y="274.19" width="4.3" height="4.3" stroke="#265483" stroke-width="1.15" fill="none"/>
<rect x="178.25" y="277.27" width="4.3" height="4.3" stroke="#265483" stroke-width="1.15" fill="none"/>
<rect x="175.75" y="279.58" width="4.3" height="4.3" stroke="#265483" stroke-width="1.15" fill="none"/>
<rect x="178.25" y="281.89" width="4.3" height="4.3" stroke="#265483" stroke-width="1.15" fill="none"/>
<rect x="175.75" y="284.2" width="4.3" height="4.3" stroke="#265483" stroke-width="1.15" fill="none"/>
<rect x="179.25" y="285.74" width="4.3" height="4.3" stroke="#265483" stroke-width="1.15" fill="none"/>
<rect x="174.25" y="287.28" width="4.3" height="4.3" stroke="#265483" stroke-width="1.15" fill="none"/>
<rect x="177.75" y="288.82" width="4.3" height="4.3" stroke="#265483" stroke-width="1.15" fill="none"/>
<rect x="172.75" y="290.36" width="4.3" height="4.3" stroke="#265483" stroke-width="1.15" fill="none"/>
<rect x="180.25" y="291.13" width="4.3" height="4.3" stroke="#265483" stroke-width="1.15" fill="none"/>
<rect x="176.25" y="291.9" width="4.3" height="4.3" stroke="#265483" stroke-width="1.15" fill="none"/>
<rect x="178.91" y="292.67" width="4.3" height="4.3" stroke="#265483" stroke-width="1.15" fill="none"/>
<rect x="171.25" y="293.44" width="4.3" height="4.3" stroke="#265483" stroke-width="1.15" fill="none"/>
<rect x="182.25" y="293.9" width="4.3" height="4.3" stroke="#265483" stroke-width="1.15" fill="none"/>
<rect x="175.88" y="294.36" width="4.3" height="4.3" stroke="#265483" stroke-width="1.15" fill="none"/>
<rect x="174.52" y="294.83" width="4.3" height="4.3" stroke="#265483" stroke-width="1.15" fill="none"/>
<rect x="177.78" y="295.13" width="4.3" height="4.3" stroke="#265483" stroke-width="1.15" fill="none"/>
<rect x="176.19" y="295.44" width="4.3" height="4.3" stroke="#265483" stroke-width="1.15" fill="none"/>
<line x1="144.6" y1="203" x2="144.6" y2="298.6" stroke="#202020" stroke-width="1.45"/>
<line x1="141.4" y1="297.9" x2="144.6" y2="297.9" stroke="#202020" stroke-width="1.1"/>
<text x="138.6" y="300.46" font-size="7.1" text-anchor="end" font-weight="normal" fill="#555" stroke="#555" stroke-width="0.12">0</text>
<line x1="141.4" y1="282.5" x2="144.6" y2="282.5" stroke="#202020" stroke-width="1.1"/>
<text x="138.6" y="285.06" font-size="7.1" text-anchor="end" font-weight="normal" fill="#555" stroke="#555" stroke-width="0.12">10</text>
<line x1="141.4" y1="267.1" x2="144.6" y2="267.1" stroke="#202020" stroke-width="1.1"/>
<text x="138.6" y="269.66" font-size="7.1" text-anchor="end" font-weight="normal" fill="#555" stroke="#555" stroke-width="0.12">20</text>
<line x1="141.4" y1="251.7" x2="144.6" y2="251.7" stroke="#202020" stroke-width="1.1"/>
<text x="138.6" y="254.26" font-size="7.1" text-anchor="end" font-weight="normal" fill="#555" stroke="#555" stroke-width="0.12">30</text>
<line x1="141.4" y1="236.3" x2="144.6" y2="236.3" stroke="#202020" stroke-width="1.1"/>
<text x="138.6" y="238.86" font-size="7.1" text-anchor="end" font-weight="normal" fill="#555" stroke="#555" stroke-width="0.12">40</text>
<line x1="141.4" y1="220.9" x2="144.6" y2="220.9" stroke="#202020" stroke-width="1.1"/>
<text x="138.6" y="223.46" font-size="7.1" text-anchor="end" font-weight="normal" fill="#555" stroke="#555" stroke-width="0.12">50</text>
<line x1="141.4" y1="205.5" x2="144.6" y2="205.5" stroke="#202020" stroke-width="1.1"/>
<text x="138.6" y="208.06" font-size="7.1" text-anchor="end" font-weight="normal" fill="#555" stroke="#555" stroke-width="0.12">60</text>
<line x1="141.8" y1="297.9" x2="192.2" y2="297.9" stroke="#202020" stroke-width="1.5"/>
<path d="M158.3 204 L158.3 198.8 L179.3 198.8 L179.3 240.7" stroke="#3a3a3a" stroke-width="1.05" fill="none"/>
<text x="168.7" y="197.7" font-size="6.5" text-anchor="middle" font-weight="normal" fill="#333" stroke="#333" stroke-width="0.12">*</text>
<text x="225.5" y="275.05" font-size="8.6" fill="#333333" stroke="#333333" stroke-width="0.12" transform="rotate(-90 225.5 275.05)" textLength="49.6" lengthAdjust="spacingAndGlyphs">Ratio Treg: TH17</text>
<rect x="248.3" y="292.68" width="12.2" height="5.22" fill="#e98474"/>
<rect x="268.3" y="275.28" width="12.2" height="22.62" fill="#8d9ec9"/>
<circle cx="254.3" cy="272.38" r="2.0" stroke="#bf1a30" stroke-width="1.05" fill="none"/>
<circle cx="254.3" cy="279.34" r="2.0" stroke="#bf1a30" stroke-width="1.05" fill="none"/>
<circle cx="254.3" cy="285.14" r="2.0" stroke="#bf1a30" stroke-width="1.05" fill="none"/>
<circle cx="254.3" cy="288.04" r="2.0" stroke="#bf1a30" stroke-width="1.05" fill="none"/>
<circle cx="256.4" cy="289.2" r="2.0" stroke="#bf1a30" stroke-width="1.05" fill="none"/>
<circle cx="254.3" cy="290.7" r="2.0" stroke="#bf1a30" stroke-width="1.05" fill="none"/>
<circle cx="256.4" cy="292.09" r="2.0" stroke="#bf1a30" stroke-width="1.05" fill="none"/>
<circle cx="252.2" cy="292.21" r="2.0" stroke="#bf1a30" stroke-width="1.05" fill="none"/>
<circle cx="254.3" cy="293.29" r="2.0" stroke="#bf1a30" stroke-width="1.05" fill="none"/>
<circle cx="258.5" cy="293.42" r="2.0" stroke="#bf1a30" stroke-width="1.05" fill="none"/>
<circle cx="250.1" cy="293.54" r="2.0" stroke="#bf1a30" stroke-width="1.05" fill="none"/>
<circle cx="252.3" cy="294.37" r="2.0" stroke="#bf1a30" stroke-width="1.05" fill="none"/>
<circle cx="256.4" cy="294.62" r="2.0" stroke="#bf1a30" stroke-width="1.05" fill="none"/>
<circle cx="257.24" cy="294.62" r="2.0" stroke="#bf1a30" stroke-width="1.05" fill="none"/>
<circle cx="256.29" cy="294.69" r="2.0" stroke="#bf1a30" stroke-width="1.05" fill="none"/>
<circle cx="251.74" cy="294.76" r="2.0" stroke="#bf1a30" stroke-width="1.05" fill="none"/>
<circle cx="255.04" cy="295.13" r="2.0" stroke="#bf1a30" stroke-width="1.05" fill="none"/>
<circle cx="254.55" cy="295.32" r="2.0" stroke="#bf1a30" stroke-width="1.05" fill="none"/>
<circle cx="258.05" cy="295.33" r="2.0" stroke="#bf1a30" stroke-width="1.05" fill="none"/>
<circle cx="256.59" cy="295.64" r="2.0" stroke="#bf1a30" stroke-width="1.05" fill="none"/>
<circle cx="249.4" cy="295.73" r="2.0" stroke="#bf1a30" stroke-width="1.05" fill="none"/>
<circle cx="252.18" cy="296.27" r="2.0" stroke="#bf1a30" stroke-width="1.05" fill="none"/>
<circle cx="259.1" cy="296.28" r="2.0" stroke="#bf1a30" stroke-width="1.05" fill="none"/>
<circle cx="250.48" cy="297.51" r="2.0" stroke="#bf1a30" stroke-width="1.05" fill="none"/>
<circle cx="254.3" cy="297.8" r="2.0" stroke="#bf1a30" stroke-width="1.05" fill="none"/>
<rect x="272.65" y="221.95" width="4.3" height="4.3" stroke="#265483" stroke-width="1.15" fill="none"/>
<rect x="271.05" y="248.45" width="4.3" height="4.3" stroke="#265483" stroke-width="1.15" fill="none"/>
<rect x="274.45" y="247.85" width="4.3" height="4.3" stroke="#265483" stroke-width="1.15" fill="none"/>
<rect x="272.65" y="255.65" width="4.3" height="4.3" stroke="#265483" stroke-width="1.15" fill="none"/>
<rect x="277.55" y="267.85" width="4.3" height="4.3" stroke="#265483" stroke-width="1.15" fill="none"/>
<rect x="273.15" y="270.15" width="4.3" height="4.3" stroke="#265483" stroke-width="1.15" fill="none"/>
<rect x="268.85" y="271.45" width="4.3" height="4.3" stroke="#265483" stroke-width="1.15" fill="none"/>
<rect x="270.25" y="273.85" width="4.3" height="4.3" stroke="#265483" stroke-width="1.15" fill="none"/>
<rect x="272.05" y="276.85" width="4.3" height="4.3" stroke="#265483" stroke-width="1.15" fill="none"/>
<rect x="272.05" y="282.95" width="4.3" height="4.3" stroke="#265483" stroke-width="1.15" fill="none"/>
<rect x="268.45" y="290.85" width="4.3" height="4.3" stroke="#265483" stroke-width="1.15" fill="none"/>
<rect x="272.45" y="291.25" width="4.3" height="4.3" stroke="#265483" stroke-width="1.15" fill="none"/>
<rect x="276.45" y="290.25" width="4.3" height="4.3" stroke="#265483" stroke-width="1.15" fill="none"/>
<rect x="269.05" y="294.25" width="4.3" height="4.3" stroke="#265483" stroke-width="1.15" fill="none"/>
<rect x="273.05" y="294.65" width="4.3" height="4.3" stroke="#265483" stroke-width="1.15" fill="none"/>
<rect x="277.05" y="293.85" width="4.3" height="4.3" stroke="#265483" stroke-width="1.15" fill="none"/>
<line x1="240.6" y1="203" x2="240.6" y2="298.6" stroke="#202020" stroke-width="1.45"/>
<line x1="237.4" y1="297.9" x2="240.6" y2="297.9" stroke="#202020" stroke-width="1.1"/>
<text x="234.6" y="300.46" font-size="7.1" text-anchor="end" font-weight="normal" fill="#555" stroke="#555" stroke-width="0.12">0</text>
<line x1="237.4" y1="286.3" x2="240.6" y2="286.3" stroke="#202020" stroke-width="1.1"/>
<text x="234.6" y="288.86" font-size="7.1" text-anchor="end" font-weight="normal" fill="#555" stroke="#555" stroke-width="0.12">1</text>
<line x1="237.4" y1="274.7" x2="240.6" y2="274.7" stroke="#202020" stroke-width="1.1"/>
<text x="234.6" y="277.26" font-size="7.1" text-anchor="end" font-weight="normal" fill="#555" stroke="#555" stroke-width="0.12">2</text>
<line x1="237.4" y1="263.1" x2="240.6" y2="263.1" stroke="#202020" stroke-width="1.1"/>
<text x="234.6" y="265.66" font-size="7.1" text-anchor="end" font-weight="normal" fill="#555" stroke="#555" stroke-width="0.12">3</text>
<line x1="237.4" y1="251.5" x2="240.6" y2="251.5" stroke="#202020" stroke-width="1.1"/>
<text x="234.6" y="254.06" font-size="7.1" text-anchor="end" font-weight="normal" fill="#555" stroke="#555" stroke-width="0.12">4</text>
<line x1="237.4" y1="239.9" x2="240.6" y2="239.9" stroke="#202020" stroke-width="1.1"/>
<text x="234.6" y="242.46" font-size="7.1" text-anchor="end" font-weight="normal" fill="#555" stroke="#555" stroke-width="0.12">5</text>
<line x1="237.4" y1="228.3" x2="240.6" y2="228.3" stroke="#202020" stroke-width="1.1"/>
<text x="234.6" y="230.86" font-size="7.1" text-anchor="end" font-weight="normal" fill="#555" stroke="#555" stroke-width="0.12">6</text>
<line x1="237.4" y1="216.7" x2="240.6" y2="216.7" stroke="#202020" stroke-width="1.1"/>
<text x="234.6" y="219.26" font-size="7.1" text-anchor="end" font-weight="normal" fill="#555" stroke="#555" stroke-width="0.12">7</text>
<line x1="237.4" y1="205.1" x2="240.6" y2="205.1" stroke="#202020" stroke-width="1.1"/>
<text x="234.6" y="207.66" font-size="7.1" text-anchor="end" font-weight="normal" fill="#555" stroke="#555" stroke-width="0.12">8</text>
<line x1="238" y1="297.9" x2="287.8" y2="297.9" stroke="#202020" stroke-width="1.5"/>
<path d="M254.3 268.7 L254.3 216.5 L274.8 216.5 L274.8 219.5" stroke="#3a3a3a" stroke-width="1.05" fill="none"/>
<text x="264.5" y="216.2" font-size="6.5" text-anchor="middle" font-weight="normal" fill="#333" stroke="#333" stroke-width="0.12">**</text>
<text x="323.6" y="274.65" font-size="8.6" fill="#333333" stroke="#333333" stroke-width="0.12" transform="rotate(-90 323.6 274.65)" textLength="52" lengthAdjust="spacingAndGlyphs">% of CD4+ T cells</text>
<line x1="339.6" y1="297.7" x2="471.7" y2="297.7" stroke="#202020" stroke-width="1.5"/>
<rect x="346.5" y="220.35" width="6.6" height="77.35" fill="#e98474"/>
<rect x="357.9" y="232.25" width="6.6" height="65.45" fill="#8d9ec9"/>
<rect x="372.1" y="260.81" width="6.6" height="36.89" fill="#e98474"/>
<rect x="383.5" y="288.18" width="6.6" height="9.52" fill="#8d9ec9"/>
<rect x="398" y="284.61" width="6.6" height="13.09" fill="#e98474"/>
<rect x="409.4" y="271.52" width="6.6" height="26.18" fill="#8d9ec9"/>
<rect x="423.8" y="294.13" width="6.6" height="3.57" fill="#e98474"/>
<rect x="435.2" y="294.13" width="6.6" height="3.57" fill="#8d9ec9"/>
<rect x="449.4" y="295.32" width="6.6" height="2.38" fill="#e98474"/>
<rect x="460.8" y="295.91" width="6.6" height="1.78" fill="#8d9ec9"/>
<line x1="349.8" y1="220.35" x2="349.8" y2="216.78" stroke="#202020" stroke-width="1.0"/>
<line x1="347.55" y1="216.78" x2="352.05" y2="216.78" stroke="#202020" stroke-width="1.0"/>
<line x1="361.2" y1="232.25" x2="361.2" y2="228.08" stroke="#202020" stroke-width="1.0"/>
<line x1="358.95" y1="228.08" x2="363.45" y2="228.08" stroke="#202020" stroke-width="1.0"/>
<circle cx="349.8" cy="211.78" r="2.0" stroke="#bf1a30" stroke-width="1.05" fill="none"/>
<circle cx="349.8" cy="214.02" r="2.0" stroke="#bf1a30" stroke-width="1.05" fill="none"/>
<circle cx="351" cy="215.25" r="2.0" stroke="#bf1a30" stroke-width="1.05" fill="none"/>
<circle cx="348.6" cy="215.43" r="2.0" stroke="#bf1a30" stroke-width="1.05" fill="none"/>
<circle cx="352.2" cy="216.49" r="2.0" stroke="#bf1a30" stroke-width="1.05" fill="none"/>
<circle cx="349.8" cy="217.17" r="2.0" stroke="#bf1a30" stroke-width="1.05" fill="none"/>
<circle cx="348" cy="217.63" r="2.0" stroke="#bf1a30" stroke-width="1.05" fill="none"/>
<circle cx="349.31" cy="217.92" r="2.0" stroke="#bf1a30" stroke-width="1.05" fill="none"/>
<circle cx="351" cy="218.44" r="2.0" stroke="#bf1a30" stroke-width="1.05" fill="none"/>
<circle cx="352.8" cy="218.48" r="2.0" stroke="#bf1a30" stroke-width="1.05" fill="none"/>
<circle cx="346.8" cy="218.93" r="2.0" stroke="#bf1a30" stroke-width="1.05" fill="none"/>
<circle cx="351.34" cy="219.08" r="2.0" stroke="#bf1a30" stroke-width="1.05" fill="none"/>
<circle cx="349.8" cy="220.67" r="2.0" stroke="#bf1a30" stroke-width="1.05" fill="none"/>
<circle cx="351" cy="221.94" r="2.0" stroke="#bf1a30" stroke-width="1.05" fill="none"/>
<circle cx="349.2" cy="222.91" r="2.0" stroke="#bf1a30" stroke-width="1.05" fill="none"/>
<circle cx="347.4" cy="222.95" r="2.0" stroke="#bf1a30" stroke-width="1.05" fill="none"/>
<circle cx="352.2" cy="223.47" r="2.0" stroke="#bf1a30" stroke-width="1.05" fill="none"/>
<circle cx="349.8" cy="228.68" r="2.0" stroke="#bf1a30" stroke-width="1.05" fill="none"/>
<circle cx="349.8" cy="231.06" r="2.0" stroke="#bf1a30" stroke-width="1.05" fill="none"/>
<circle cx="349.8" cy="233.44" r="2.0" stroke="#bf1a30" stroke-width="1.05" fill="none"/>
<circle cx="349.8" cy="246.53" r="2.0" stroke="#bf1a30" stroke-width="1.05" fill="none"/>
<rect x="356.75" y="211.65" width="4.3" height="4.3" stroke="#265483" stroke-width="1.15" fill="none"/>
<rect x="360.65" y="213.55" width="4.3" height="4.3" stroke="#265483" stroke-width="1.15" fill="none"/>
<rect x="358.25" y="217.95" width="4.3" height="4.3" stroke="#265483" stroke-width="1.15" fill="none"/>
<rect x="360.65" y="223.75" width="4.3" height="4.3" stroke="#265483" stroke-width="1.15" fill="none"/>
<rect x="358.25" y="225.85" width="4.3" height="4.3" stroke="#265483" stroke-width="1.15" fill="none"/>
<rect x="357.05" y="228.55" width="4.3" height="4.3" stroke="#265483" stroke-width="1.15" fill="none"/>
<rect x="359.35" y="229.45" width="4.3" height="4.3" stroke="#265483" stroke-width="1.15" fill="none"/>
<rect x="356.45" y="232.15" width="4.3" height="4.3" stroke="#265483" stroke-width="1.15" fill="none"/>
<rect x="358.45" y="234.05" width="4.3" height="4.3" stroke="#265483" stroke-width="1.15" fill="none"/>
<rect x="360.35" y="236.35" width="4.3" height="4.3" stroke="#265483" stroke-width="1.15" fill="none"/>
<rect x="358.05" y="239.55" width="4.3" height="4.3" stroke="#265483" stroke-width="1.15" fill="none"/>
<rect x="357.85" y="242.65" width="4.3" height="4.3" stroke="#265483" stroke-width="1.15" fill="none"/>
<rect x="359.85" y="250.65" width="4.3" height="4.3" stroke="#265483" stroke-width="1.15" fill="none"/>
<rect x="357.95" y="254.95" width="4.3" height="4.3" stroke="#265483" stroke-width="1.15" fill="none"/>
<rect x="357.95" y="261.25" width="4.3" height="4.3" stroke="#265483" stroke-width="1.15" fill="none"/>
<line x1="375.4" y1="260.81" x2="375.4" y2="248.9" stroke="#202020" stroke-width="1.0"/>
<line x1="373.15" y1="248.9" x2="377.65" y2="248.9" stroke="#202020" stroke-width="1.0"/>
<circle cx="375.5" cy="208.9" r="2.0" stroke="#bf1a30" stroke-width="1.05" fill="none"/>
<circle cx="375.5" cy="214.1" r="2.0" stroke="#bf1a30" stroke-width="1.05" fill="none"/>
<circle cx="375.5" cy="218.5" r="2.0" stroke="#bf1a30" stroke-width="1.05" fill="none"/>
<circle cx="375.4" cy="253.1" r="2.0" stroke="#bf1a30" stroke-width="1.05" fill="none"/>
<circle cx="375.4" cy="255.8" r="2.0" stroke="#bf1a30" stroke-width="1.05" fill="none"/>
<circle cx="375.4" cy="258.5" r="2.0" stroke="#bf1a30" stroke-width="1.05" fill="none"/>
<circle cx="375.6" cy="261.4" r="2.0" stroke="#bf1a30" stroke-width="1.05" fill="none"/>
<circle cx="375.4" cy="264.6" r="2.0" stroke="#bf1a30" stroke-width="1.05" fill="none"/>
<circle cx="375.2" cy="267.8" r="2.0" stroke="#bf1a30" stroke-width="1.05" fill="none"/>
<circle cx="374.3" cy="270.8" r="2.0" stroke="#bf1a30" stroke-width="1.05" fill="none"/>
<circle cx="376.6" cy="271.6" r="2.0" stroke="#bf1a30" stroke-width="1.05" fill="none"/>
<circle cx="373" cy="274.6" r="2.0" stroke="#bf1a30" stroke-width="1.05" fill="none"/>
<circle cx="375.4" cy="275.3" r="2.0" stroke="#bf1a30" stroke-width="1.05" fill="none"/>
<circle cx="377.8" cy="273.9" r="2.0" stroke="#bf1a30" stroke-width="1.05" fill="none"/>
<rect x="384.35" y="251.45" width="4.3" height="4.3" stroke="#265483" stroke-width="1.15" fill="none"/>
<rect x="384.35" y="256.45" width="4.3" height="4.3" stroke="#265483" stroke-width="1.15" fill="none"/>
<line x1="386.8" y1="288.18" x2="386.8" y2="274.4" stroke="#202020" stroke-width="1.0"/>
<line x1="384.55" y1="274.4" x2="389.05" y2="274.4" stroke="#202020" stroke-width="1.0"/>
<rect x="383.8" y="286.5" width="6" height="12.8" rx="1.2" fill="#1f5292" opacity="1.0"/>
<rect x="384.35" y="274.85" width="4.3" height="4.3" stroke="#265483" stroke-width="1.15" fill="none"/>
<rect x="384.35" y="278.15" width="4.3" height="4.3" stroke="#265483" stroke-width="1.15" fill="none"/>
<rect x="384.25" y="281.25" width="4.3" height="4.3" stroke="#265483" stroke-width="1.15" fill="none"/>
<rect x="382.85" y="284.05" width="4.3" height="4.3" stroke="#265483" stroke-width="1.15" fill="none"/>
<rect x="385.85" y="284.45" width="4.3" height="4.3" stroke="#265483" stroke-width="1.15" fill="none"/>
<rect x="382.45" y="287.45" width="4.3" height="4.3" stroke="#265483" stroke-width="1.15" fill="none"/>
<rect x="386.25" y="287.45" width="4.3" height="4.3" stroke="#265483" stroke-width="1.15" fill="none"/>
<rect x="382.35" y="290.65" width="4.3" height="4.3" stroke="#265483" stroke-width="1.15" fill="none"/>
<rect x="385.05" y="291.25" width="4.3" height="4.3" stroke="#265483" stroke-width="1.15" fill="none"/>
<rect x="387.15" y="290.45" width="4.3" height="4.3" stroke="#265483" stroke-width="1.15" fill="none"/>
<rect x="383.45" y="293.25" width="4.3" height="4.3" stroke="#265483" stroke-width="1.15" fill="none"/>
<rect x="386.25" y="293.25" width="4.3" height="4.3" stroke="#265483" stroke-width="1.15" fill="none"/>
<circle cx="401.7" cy="253" r="2.0" stroke="#bf1a30" stroke-width="1.05" fill="none"/>
<circle cx="401.4" cy="271" r="2.0" stroke="#bf1a30" stroke-width="1.05" fill="#e06070"/>
<circle cx="401.4" cy="275.2" r="2.0" stroke="#bf1a30" stroke-width="1.05" fill="#e06070"/>
<line x1="401.3" y1="284" x2="401.3" y2="280.6" stroke="#202020" stroke-width="1.0"/>
<line x1="399.05" y1="280.6" x2="403.55" y2="280.6" stroke="#202020" stroke-width="1.0"/>
<path d="M397.4 299.5 C397.4 297 398.9 286.4 398.9 284.4 A2.4 2.4 0 0 1 403.7 284.4 C403.7 286.4 405.2 297 405.2 299.5 Z" fill="#dc1431" opacity="0.85"/>
<circle cx="401.3" cy="286.02" r="2.0" stroke="#c8102c" stroke-width="1.05" fill="none"/>
<circle cx="402.5" cy="287.65" r="2.0" stroke="#c8102c" stroke-width="1.05" fill="none"/>
<circle cx="400.1" cy="287.99" r="2.0" stroke="#c8102c" stroke-width="1.05" fill="none"/>
<circle cx="399.49" cy="288.05" r="2.0" stroke="#c8102c" stroke-width="1.05" fill="none"/>
<circle cx="401.24" cy="288.11" r="2.0" stroke="#c8102c" stroke-width="1.05" fill="none"/>
<circle cx="398.9" cy="288.87" r="2.0" stroke="#c8102c" stroke-width="1.05" fill="none"/>
<circle cx="403.7" cy="289.47" r="2.0" stroke="#c8102c" stroke-width="1.05" fill="none"/>
<circle cx="401.3" cy="290.61" r="2.0" stroke="#c8102c" stroke-width="1.05" fill="none"/>
<circle cx="398.9" cy="291.08" r="2.0" stroke="#c8102c" stroke-width="1.05" fill="none"/>
<circle cx="403.1" cy="291.98" r="2.0" stroke="#c8102c" stroke-width="1.05" fill="none"/>
<circle cx="401.3" cy="293.35" r="2.0" stroke="#c8102c" stroke-width="1.05" fill="none"/>
<circle cx="402.5" cy="295.12" r="2.0" stroke="#c8102c" stroke-width="1.05" fill="none"/>
<circle cx="400.1" cy="295.15" r="2.0" stroke="#c8102c" stroke-width="1.05" fill="none"/>
<circle cx="401.3" cy="296.96" r="2.0" stroke="#c8102c" stroke-width="1.05" fill="none"/>
<rect x="410.25" y="232.45" width="4.3" height="4.3" stroke="#265483" stroke-width="1.15" fill="none"/>
<rect x="410.25" y="237.45" width="4.3" height="4.3" stroke="#265483" stroke-width="1.15" fill="none"/>
<rect x="410.25" y="244.25" width="4.3" height="4.3" stroke="#265483" stroke-width="1.15" fill="none"/>
<line x1="412.7" y1="271.52" x2="412.7" y2="263.1" stroke="#202020" stroke-width="1.0"/>
<line x1="410.45" y1="263.1" x2="414.95" y2="263.1" stroke="#202020" stroke-width="1.0"/>
<rect x="410.55" y="265.46" width="4.3" height="4.3" stroke="#265483" stroke-width="1.15" fill="none"/>
<rect x="410.55" y="267.93" width="4.3" height="4.3" stroke="#265483" stroke-width="1.15" fill="none"/>
<rect x="412.95" y="268.97" width="4.3" height="4.3" stroke="#265483" stroke-width="1.15" fill="none"/>
<rect x="408.15" y="269" width="4.3" height="4.3" stroke="#265483" stroke-width="1.15" fill="none"/>
<rect x="410.55" y="272.27" width="4.3" height="4.3" stroke="#265483" stroke-width="1.15" fill="none"/>
<rect x="411.15" y="274.41" width="4.3" height="4.3" stroke="#265483" stroke-width="1.15" fill="none"/>
<rect x="410.55" y="277.34" width="4.3" height="4.3" stroke="#265483" stroke-width="1.15" fill="none"/>
<rect x="412.95" y="278.1" width="4.3" height="4.3" stroke="#265483" stroke-width="1.15" fill="none"/>
<rect x="408.75" y="278.71" width="4.3" height="4.3" stroke="#265483" stroke-width="1.15" fill="none"/>
<rect x="411.36" y="278.83" width="4.3" height="4.3" stroke="#265483" stroke-width="1.15" fill="none"/>
<rect x="411.82" y="279.07" width="4.3" height="4.3" stroke="#265483" stroke-width="1.15" fill="none"/>
<rect x="410.9" y="279.67" width="4.3" height="4.3" stroke="#265483" stroke-width="1.15" fill="none"/>
<rect x="412.35" y="280.5" width="4.3" height="4.3" stroke="#265483" stroke-width="1.15" fill="none"/>
<rect x="408.15" y="280.86" width="4.3" height="4.3" stroke="#265483" stroke-width="1.15" fill="none"/>
<rect x="410.25" y="288.15" width="4.3" height="4.3" stroke="#265483" stroke-width="1.15" fill="none"/>
<circle cx="427.1" cy="273.6" r="2.0" stroke="#bf1a30" stroke-width="1.05" fill="none"/>
<circle cx="427.1" cy="281" r="2.0" stroke="#bf1a30" stroke-width="1.05" fill="none"/>
<path d="M423.2 299.7 C423.2 297.2 424.7 291.4 424.7 289.4 A2.4 2.4 0 0 1 429.5 289.4 C429.5 291.4 431 297.2 431 299.7 Z" fill="#dc1431" opacity="1.0"/>
<rect x="435.75" y="265.85" width="4.3" height="4.3" stroke="#265483" stroke-width="1.15" fill="none"/>
<rect x="435.75" y="270.65" width="4.3" height="4.3" stroke="#265483" stroke-width="1.15" fill="none"/>
<line x1="438.5" y1="290.5" x2="438.5" y2="287.8" stroke="#202020" stroke-width="1.0"/>
<line x1="436.5" y1="287.8" x2="440.5" y2="287.8" stroke="#202020" stroke-width="1.0"/>
<path d="M434.1 299.7 C434.1 297.2 436.1 292.4 436.1 290.4 A2.4 2.4 0 0 1 440.9 290.4 C440.9 292.4 442.9 297.2 442.9 299.7 Z" fill="#1f5292" opacity="1.0"/>
<circle cx="427.1" cy="289" r="2.0" stroke="#c01530" stroke-width="1.05" fill="#f4b6b6"/>
<circle cx="425.6" cy="295.5" r="2.0" stroke="#b01228" stroke-width="1.05" fill="none"/>
<circle cx="428.6" cy="295.5" r="2.0" stroke="#b01228" stroke-width="1.05" fill="none"/>
<circle cx="427.1" cy="292.8" r="2.0" stroke="#b01228" stroke-width="1.05" fill="none"/>
<rect x="434.55" y="292.85" width="4.3" height="4.3" stroke="#17406c" stroke-width="1.15" fill="none"/>
<rect x="438.15" y="292.85" width="4.3" height="4.3" stroke="#17406c" stroke-width="1.15" fill="none"/>
<rect x="436.35" y="289.35" width="4.3" height="4.3" stroke="#17406c" stroke-width="1.15" fill="none"/>
<path d="M448.8 299.6 C448.8 297.1 450.3 294.2 450.3 292.2 A2.4 2.4 0 0 1 455.1 292.2 C455.1 294.2 456.6 297.1 456.6 299.6 Z" fill="#dc1431" opacity="1.0"/>
<circle cx="452.7" cy="291.9" r="2.0" stroke="#b01228" stroke-width="1.05" fill="#f09a9a"/>
<circle cx="450.7" cy="295.6" r="2.0" stroke="#b01228" stroke-width="1.05" fill="none"/>
<circle cx="454.7" cy="295.6" r="2.0" stroke="#b01228" stroke-width="1.05" fill="none"/>
<rect x="460.1" y="292.6" width="8" height="6.8" rx="1.2" fill="#1f5292" opacity="1.0"/>
<rect x="461.1" y="293.4" width="3.6" height="3.6" stroke="#17406c" stroke-width="1.15" fill="none"/>
<rect x="463.9" y="293.6" width="3.6" height="3.6" stroke="#17406c" stroke-width="1.15" fill="none"/>
<line x1="342.3" y1="200" x2="342.3" y2="298.4" stroke="#202020" stroke-width="1.45"/>
<line x1="339.1" y1="297.7" x2="342.3" y2="297.7" stroke="#202020" stroke-width="1.1"/>
<text x="336.3" y="300.26" font-size="7.1" text-anchor="end" font-weight="normal" fill="#555" stroke="#555" stroke-width="0.12">0</text>
<line x1="339.1" y1="285.8" x2="342.3" y2="285.8" stroke="#202020" stroke-width="1.1"/>
<text x="336.3" y="288.36" font-size="7.1" text-anchor="end" font-weight="normal" fill="#555" stroke="#555" stroke-width="0.12">10</text>
<line x1="339.1" y1="273.9" x2="342.3" y2="273.9" stroke="#202020" stroke-width="1.1"/>
<text x="336.3" y="276.46" font-size="7.1" text-anchor="end" font-weight="normal" fill="#555" stroke="#555" stroke-width="0.12">20</text>
<line x1="339.1" y1="262" x2="342.3" y2="262" stroke="#202020" stroke-width="1.1"/>
<text x="336.3" y="264.56" font-size="7.1" text-anchor="end" font-weight="normal" fill="#555" stroke="#555" stroke-width="0.12">30</text>
<line x1="339.1" y1="250.1" x2="342.3" y2="250.1" stroke="#202020" stroke-width="1.1"/>
<text x="336.3" y="252.66" font-size="7.1" text-anchor="end" font-weight="normal" fill="#555" stroke="#555" stroke-width="0.12">40</text>
<line x1="339.1" y1="238.2" x2="342.3" y2="238.2" stroke="#202020" stroke-width="1.1"/>
<text x="336.3" y="240.76" font-size="7.1" text-anchor="end" font-weight="normal" fill="#555" stroke="#555" stroke-width="0.12">50</text>
<line x1="339.1" y1="226.3" x2="342.3" y2="226.3" stroke="#202020" stroke-width="1.1"/>
<text x="336.3" y="228.86" font-size="7.1" text-anchor="end" font-weight="normal" fill="#555" stroke="#555" stroke-width="0.12">60</text>
<line x1="339.1" y1="214.4" x2="342.3" y2="214.4" stroke="#202020" stroke-width="1.1"/>
<text x="336.3" y="216.96" font-size="7.1" text-anchor="end" font-weight="normal" fill="#555" stroke="#555" stroke-width="0.12">70</text>
<line x1="339.1" y1="202.5" x2="342.3" y2="202.5" stroke="#202020" stroke-width="1.1"/>
<text x="336.3" y="205.06" font-size="7.1" text-anchor="end" font-weight="normal" fill="#555" stroke="#555" stroke-width="0.12">80</text>
<line x1="355.5" y1="297.7" x2="355.5" y2="300.3" stroke="#202020" stroke-width="1.0"/>
<text x="344.75" y="310" font-size="7.2" font-weight="normal" fill="#333333" stroke="#333333" stroke-width="0.12" textLength="20.8" lengthAdjust="spacingAndGlyphs">CD200</text>
<line x1="381.1" y1="297.7" x2="381.1" y2="300.3" stroke="#202020" stroke-width="1.0"/>
<text x="373.25" y="310" font-size="7.2" font-weight="normal" fill="#333333" stroke="#333333" stroke-width="0.12" textLength="15.7" lengthAdjust="spacingAndGlyphs">ICOS</text>
<line x1="407" y1="297.7" x2="407" y2="300.3" stroke="#202020" stroke-width="1.0"/>
<text x="400.65" y="310" font-size="7.2" font-weight="normal" fill="#333333" stroke="#333333" stroke-width="0.12" textLength="11.9" lengthAdjust="spacingAndGlyphs">PD1</text>
<line x1="432.8" y1="297.7" x2="432.8" y2="300.3" stroke="#202020" stroke-width="1.0"/>
<text x="424.35" y="310" font-size="7.2" font-weight="normal" fill="#333333" stroke="#333333" stroke-width="0.12" textLength="16.9" lengthAdjust="spacingAndGlyphs">Lag-3</text>
<line x1="458.4" y1="297.7" x2="458.4" y2="300.3" stroke="#202020" stroke-width="1.0"/>
<text x="447.15" y="310" font-size="7.2" font-weight="normal" fill="#333333" stroke="#333333" stroke-width="0.12" textLength="22.2" lengthAdjust="spacingAndGlyphs">CTLA-4</text>
<path d="M348.2 205.7 L348.2 200.7 L361.4 200.7 L361.4 205.7" stroke="#3a3a3a" stroke-width="1.05" fill="none"/>
<text x="354.5" y="199.2" font-size="6.5" text-anchor="middle" font-weight="normal" fill="#333" stroke="#333" stroke-width="0.12">*</text>
<path d="M375.2 203.5 L375.2 200.3 L386.7 200.3 L386.7 249.8" stroke="#3a3a3a" stroke-width="1.05" fill="none"/>
<text x="380.7" y="199.9" font-size="6.5" text-anchor="middle" font-weight="normal" fill="#333" stroke="#333" stroke-width="0.12">**</text>
<path d="M400.4 240.7 L400.4 200.3 L411.9 200.3 L411.9 225.8" stroke="#3a3a3a" stroke-width="1.05" fill="none"/>
<text x="406.2" y="199.9" font-size="6.5" text-anchor="middle" font-weight="normal" fill="#333" stroke="#333" stroke-width="0.12">**</text>
<rect x="0" y="0" width="520" height="0.9" fill="#4a4a4a"/>
<rect x="0" y="0" width="1" height="318" fill="#4a4a4a"/>
<rect x="518.4" y="0" width="1.6" height="318" fill="#4a4a4a"/>
<rect x="0" y="316.6" width="520" height="1.4" fill="#4a4a4a"/>
</svg>
</body></html>
